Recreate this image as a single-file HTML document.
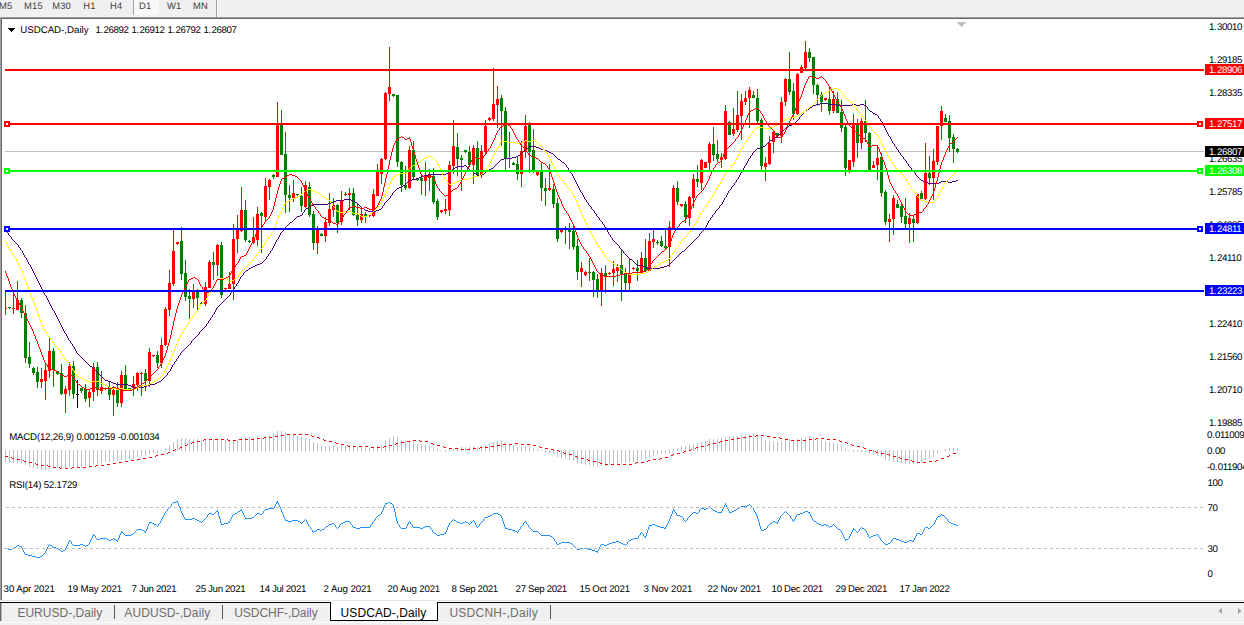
<!DOCTYPE html>
<html><head><meta charset="utf-8"><title>USDCAD-,Daily</title>
<style>
html,body{margin:0;padding:0;background:#fff;}
body{width:1244px;height:625px;position:relative;overflow:hidden;font-family:"Liberation Sans",sans-serif;}
.t{position:absolute;white-space:pre;line-height:1;color:#000;}
.p{font-size:9.7px;letter-spacing:-0.39px;text-rendering:geometricPrecision;}
.w{color:#fff;}
.p i{font-style:normal;letter-spacing:0.3px;}
.ttl{font-size:9.7px;letter-spacing:0px;text-rendering:geometricPrecision;}
.d{font-size:9.7px;text-rendering:geometricPrecision;}
.ind{letter-spacing:-0.2px;}
.tb{font-size:9.4px;color:#404040;letter-spacing:0.2px;text-rendering:geometricPrecision;}
.tab{font-size:12px;color:#6e6e6e;}
.act{color:#000;}
#top{position:absolute;left:0;top:0;width:1244px;height:17px;background:#f0f0f0;}
#bot{position:absolute;left:0;top:603px;width:1244px;height:22px;background:#f0f0f0;}
</style></head><body>
<div id="top"></div>
<div style="position:absolute;left:0;top:17px;width:1244px;height:1px;background:#a0a0a0"></div>
<div style="position:absolute;left:1px;top:18px;width:1243px;height:1px;background:#696969"></div>
<div style="position:absolute;left:0;top:17px;width:1px;height:585px;background:#a0a0a0"></div>
<div style="position:absolute;left:1px;top:18px;width:1px;height:584px;background:#696969"></div>
<div style="position:absolute;left:0;top:600px;width:1244px;height:1px;background:#e3e3e3"></div>
<div style="position:absolute;left:0;top:601px;width:1244px;height:1px;background:#fff"></div>
<div style="position:absolute;left:0;top:602px;width:1244px;height:1px;background:#000"></div>
<div id="bot"></div>
<div style="position:absolute;left:0;top:622px;width:1244px;height:1px;background:#fbfbfb"></div>
<!-- toolbar separators -->
<div style="position:absolute;left:133px;top:0;width:1px;height:15px;background:#a0a0a0"></div>
<div style="position:absolute;left:134px;top:0;width:25px;height:15px;background:#f8f8f8"></div>
<div style="position:absolute;left:216px;top:0;width:1px;height:17px;background:#a0a0a0"></div>
<div style="position:absolute;left:217px;top:0;width:1px;height:17px;background:#fafafa"></div>
<!-- tab bar pieces -->
<div style="position:absolute;left:0;top:603px;width:1px;height:18px;background:#696969"></div><div style="position:absolute;left:1px;top:603px;width:1px;height:18px;background:#b4b4b4"></div>
<div style="position:absolute;left:114px;top:605px;width:1px;height:14px;background:#555"></div>
<div style="position:absolute;left:222px;top:605px;width:1px;height:14px;background:#555"></div>
<div style="position:absolute;left:550px;top:605px;width:1px;height:14px;background:#555"></div>
<div style="position:absolute;left:330px;top:602px;width:106px;height:18px;background:#fff;border:1px solid #000;border-top:none;"></div>
<svg width="1244" height="625" shape-rendering="crispEdges" style="position:absolute;left:0;top:0"><rect x="5" y="450" width="1" height="12" fill="#c0c0c0"/><rect x="9" y="450" width="1" height="13" fill="#c0c0c0"/><rect x="13" y="450" width="1" height="13" fill="#c0c0c0"/><rect x="17" y="450" width="1" height="13" fill="#c0c0c0"/><rect x="21" y="450" width="1" height="13" fill="#c0c0c0"/><rect x="25" y="450" width="1" height="15" fill="#c0c0c0"/><rect x="29" y="450" width="1" height="17" fill="#c0c0c0"/><rect x="33" y="450" width="1" height="18" fill="#c0c0c0"/><rect x="37" y="450" width="1" height="19" fill="#c0c0c0"/><rect x="41" y="450" width="1" height="20" fill="#c0c0c0"/><rect x="45" y="450" width="1" height="20" fill="#c0c0c0"/><rect x="49" y="450" width="1" height="19" fill="#c0c0c0"/><rect x="53" y="450" width="1" height="18" fill="#c0c0c0"/><rect x="57" y="450" width="1" height="18" fill="#c0c0c0"/><rect x="61" y="450" width="1" height="19" fill="#c0c0c0"/><rect x="65" y="450" width="1" height="18" fill="#c0c0c0"/><rect x="69" y="450" width="1" height="17" fill="#c0c0c0"/><rect x="73" y="450" width="1" height="17" fill="#c0c0c0"/><rect x="77" y="450" width="1" height="17" fill="#c0c0c0"/><rect x="81" y="450" width="1" height="17" fill="#c0c0c0"/><rect x="85" y="450" width="1" height="16" fill="#c0c0c0"/><rect x="89" y="450" width="1" height="16" fill="#c0c0c0"/><rect x="93" y="450" width="1" height="14" fill="#c0c0c0"/><rect x="97" y="450" width="1" height="14" fill="#c0c0c0"/><rect x="101" y="450" width="1" height="13" fill="#c0c0c0"/><rect x="105" y="450" width="1" height="12" fill="#c0c0c0"/><rect x="109" y="450" width="1" height="12" fill="#c0c0c0"/><rect x="113" y="450" width="1" height="11" fill="#c0c0c0"/><rect x="117" y="450" width="1" height="11" fill="#c0c0c0"/><rect x="121" y="450" width="1" height="10" fill="#c0c0c0"/><rect x="125" y="450" width="1" height="10" fill="#c0c0c0"/><rect x="129" y="450" width="1" height="9" fill="#c0c0c0"/><rect x="133" y="450" width="1" height="8" fill="#c0c0c0"/><rect x="137" y="450" width="1" height="7" fill="#c0c0c0"/><rect x="141" y="450" width="1" height="6" fill="#c0c0c0"/><rect x="145" y="450" width="1" height="6" fill="#c0c0c0"/><rect x="149" y="450" width="1" height="4" fill="#c0c0c0"/><rect x="153" y="450" width="1" height="3" fill="#c0c0c0"/><rect x="157" y="450" width="1" height="3" fill="#c0c0c0"/><rect x="161" y="450" width="1" height="1" fill="#c0c0c0"/><rect x="165" y="448" width="1" height="3" fill="#c0c0c0"/><rect x="169" y="445" width="1" height="6" fill="#c0c0c0"/><rect x="173" y="442" width="1" height="9" fill="#c0c0c0"/><rect x="177" y="439" width="1" height="12" fill="#c0c0c0"/><rect x="181" y="438" width="1" height="13" fill="#c0c0c0"/><rect x="185" y="438" width="1" height="13" fill="#c0c0c0"/><rect x="189" y="439" width="1" height="12" fill="#c0c0c0"/><rect x="193" y="439" width="1" height="12" fill="#c0c0c0"/><rect x="197" y="439" width="1" height="12" fill="#c0c0c0"/><rect x="201" y="440" width="1" height="11" fill="#c0c0c0"/><rect x="205" y="440" width="1" height="11" fill="#c0c0c0"/><rect x="209" y="439" width="1" height="12" fill="#c0c0c0"/><rect x="213" y="439" width="1" height="12" fill="#c0c0c0"/><rect x="217" y="438" width="1" height="13" fill="#c0c0c0"/><rect x="221" y="439" width="1" height="12" fill="#c0c0c0"/><rect x="225" y="440" width="1" height="11" fill="#c0c0c0"/><rect x="229" y="441" width="1" height="10" fill="#c0c0c0"/><rect x="233" y="440" width="1" height="11" fill="#c0c0c0"/><rect x="237" y="439" width="1" height="12" fill="#c0c0c0"/><rect x="241" y="437" width="1" height="14" fill="#c0c0c0"/><rect x="245" y="437" width="1" height="14" fill="#c0c0c0"/><rect x="249" y="437" width="1" height="14" fill="#c0c0c0"/><rect x="253" y="438" width="1" height="13" fill="#c0c0c0"/><rect x="257" y="437" width="1" height="14" fill="#c0c0c0"/><rect x="261" y="437" width="1" height="14" fill="#c0c0c0"/><rect x="265" y="436" width="1" height="15" fill="#c0c0c0"/><rect x="269" y="435" width="1" height="16" fill="#c0c0c0"/><rect x="273" y="434" width="1" height="17" fill="#c0c0c0"/><rect x="277" y="431" width="1" height="20" fill="#c0c0c0"/><rect x="281" y="431" width="1" height="20" fill="#c0c0c0"/><rect x="285" y="432" width="1" height="19" fill="#c0c0c0"/><rect x="289" y="434" width="1" height="17" fill="#c0c0c0"/><rect x="293" y="435" width="1" height="16" fill="#c0c0c0"/><rect x="297" y="436" width="1" height="15" fill="#c0c0c0"/><rect x="301" y="437" width="1" height="14" fill="#c0c0c0"/><rect x="305" y="438" width="1" height="13" fill="#c0c0c0"/><rect x="309" y="439" width="1" height="12" fill="#c0c0c0"/><rect x="313" y="442" width="1" height="9" fill="#c0c0c0"/><rect x="317" y="443" width="1" height="8" fill="#c0c0c0"/><rect x="321" y="445" width="1" height="6" fill="#c0c0c0"/><rect x="325" y="446" width="1" height="5" fill="#c0c0c0"/><rect x="329" y="446" width="1" height="5" fill="#c0c0c0"/><rect x="333" y="446" width="1" height="5" fill="#c0c0c0"/><rect x="337" y="447" width="1" height="4" fill="#c0c0c0"/><rect x="341" y="446" width="1" height="5" fill="#c0c0c0"/><rect x="345" y="446" width="1" height="5" fill="#c0c0c0"/><rect x="349" y="445" width="1" height="6" fill="#c0c0c0"/><rect x="353" y="446" width="1" height="5" fill="#c0c0c0"/><rect x="357" y="447" width="1" height="4" fill="#c0c0c0"/><rect x="361" y="447" width="1" height="4" fill="#c0c0c0"/><rect x="365" y="448" width="1" height="3" fill="#c0c0c0"/><rect x="369" y="448" width="1" height="3" fill="#c0c0c0"/><rect x="373" y="447" width="1" height="4" fill="#c0c0c0"/><rect x="377" y="446" width="1" height="5" fill="#c0c0c0"/><rect x="381" y="445" width="1" height="6" fill="#c0c0c0"/><rect x="385" y="441" width="1" height="10" fill="#c0c0c0"/><rect x="389" y="438" width="1" height="13" fill="#c0c0c0"/><rect x="393" y="436" width="1" height="15" fill="#c0c0c0"/><rect x="397" y="437" width="1" height="14" fill="#c0c0c0"/><rect x="401" y="440" width="1" height="11" fill="#c0c0c0"/><rect x="405" y="441" width="1" height="10" fill="#c0c0c0"/><rect x="409" y="441" width="1" height="10" fill="#c0c0c0"/><rect x="413" y="443" width="1" height="8" fill="#c0c0c0"/><rect x="417" y="444" width="1" height="7" fill="#c0c0c0"/><rect x="421" y="445" width="1" height="6" fill="#c0c0c0"/><rect x="425" y="445" width="1" height="6" fill="#c0c0c0"/><rect x="429" y="446" width="1" height="5" fill="#c0c0c0"/><rect x="433" y="447" width="1" height="4" fill="#c0c0c0"/><rect x="437" y="449" width="1" height="2" fill="#c0c0c0"/><rect x="441" y="450" width="1" height="1" fill="#c0c0c0"/><rect x="445" y="450" width="1" height="2" fill="#c0c0c0"/><rect x="449" y="450" width="1" height="1" fill="#c0c0c0"/><rect x="453" y="449" width="1" height="2" fill="#c0c0c0"/><rect x="457" y="448" width="1" height="3" fill="#c0c0c0"/><rect x="461" y="447" width="1" height="4" fill="#c0c0c0"/><rect x="465" y="447" width="1" height="4" fill="#c0c0c0"/><rect x="469" y="447" width="1" height="4" fill="#c0c0c0"/><rect x="473" y="446" width="1" height="5" fill="#c0c0c0"/><rect x="477" y="447" width="1" height="4" fill="#c0c0c0"/><rect x="481" y="446" width="1" height="5" fill="#c0c0c0"/><rect x="485" y="445" width="1" height="6" fill="#c0c0c0"/><rect x="489" y="444" width="1" height="7" fill="#c0c0c0"/><rect x="493" y="442" width="1" height="9" fill="#c0c0c0"/><rect x="497" y="441" width="1" height="10" fill="#c0c0c0"/><rect x="501" y="441" width="1" height="10" fill="#c0c0c0"/><rect x="505" y="442" width="1" height="9" fill="#c0c0c0"/><rect x="509" y="444" width="1" height="7" fill="#c0c0c0"/><rect x="513" y="445" width="1" height="6" fill="#c0c0c0"/><rect x="517" y="447" width="1" height="4" fill="#c0c0c0"/><rect x="521" y="447" width="1" height="4" fill="#c0c0c0"/><rect x="525" y="446" width="1" height="5" fill="#c0c0c0"/><rect x="529" y="447" width="1" height="4" fill="#c0c0c0"/><rect x="533" y="448" width="1" height="3" fill="#c0c0c0"/><rect x="537" y="449" width="1" height="2" fill="#c0c0c0"/><rect x="541" y="450" width="1" height="1" fill="#c0c0c0"/><rect x="545" y="450" width="1" height="3" fill="#c0c0c0"/><rect x="549" y="450" width="1" height="3" fill="#c0c0c0"/><rect x="553" y="450" width="1" height="5" fill="#c0c0c0"/><rect x="557" y="450" width="1" height="7" fill="#c0c0c0"/><rect x="561" y="450" width="1" height="8" fill="#c0c0c0"/><rect x="565" y="450" width="1" height="9" fill="#c0c0c0"/><rect x="569" y="450" width="1" height="10" fill="#c0c0c0"/><rect x="573" y="450" width="1" height="11" fill="#c0c0c0"/><rect x="577" y="450" width="1" height="13" fill="#c0c0c0"/><rect x="581" y="450" width="1" height="14" fill="#c0c0c0"/><rect x="585" y="450" width="1" height="15" fill="#c0c0c0"/><rect x="589" y="450" width="1" height="15" fill="#c0c0c0"/><rect x="593" y="450" width="1" height="16" fill="#c0c0c0"/><rect x="597" y="450" width="1" height="17" fill="#c0c0c0"/><rect x="601" y="450" width="1" height="16" fill="#c0c0c0"/><rect x="605" y="450" width="1" height="16" fill="#c0c0c0"/><rect x="609" y="450" width="1" height="15" fill="#c0c0c0"/><rect x="613" y="450" width="1" height="15" fill="#c0c0c0"/><rect x="617" y="450" width="1" height="14" fill="#c0c0c0"/><rect x="621" y="450" width="1" height="13" fill="#c0c0c0"/><rect x="625" y="450" width="1" height="13" fill="#c0c0c0"/><rect x="629" y="450" width="1" height="12" fill="#c0c0c0"/><rect x="633" y="450" width="1" height="12" fill="#c0c0c0"/><rect x="637" y="450" width="1" height="11" fill="#c0c0c0"/><rect x="641" y="450" width="1" height="10" fill="#c0c0c0"/><rect x="645" y="450" width="1" height="9" fill="#c0c0c0"/><rect x="649" y="450" width="1" height="8" fill="#c0c0c0"/><rect x="653" y="450" width="1" height="6" fill="#c0c0c0"/><rect x="657" y="450" width="1" height="5" fill="#c0c0c0"/><rect x="661" y="450" width="1" height="4" fill="#c0c0c0"/><rect x="665" y="450" width="1" height="4" fill="#c0c0c0"/><rect x="669" y="450" width="1" height="3" fill="#c0c0c0"/><rect x="673" y="449" width="1" height="2" fill="#c0c0c0"/><rect x="677" y="448" width="1" height="3" fill="#c0c0c0"/><rect x="681" y="446" width="1" height="5" fill="#c0c0c0"/><rect x="685" y="446" width="1" height="5" fill="#c0c0c0"/><rect x="689" y="445" width="1" height="6" fill="#c0c0c0"/><rect x="693" y="444" width="1" height="7" fill="#c0c0c0"/><rect x="697" y="443" width="1" height="8" fill="#c0c0c0"/><rect x="701" y="442" width="1" height="9" fill="#c0c0c0"/><rect x="705" y="441" width="1" height="10" fill="#c0c0c0"/><rect x="709" y="439" width="1" height="12" fill="#c0c0c0"/><rect x="713" y="439" width="1" height="12" fill="#c0c0c0"/><rect x="717" y="439" width="1" height="12" fill="#c0c0c0"/><rect x="721" y="438" width="1" height="13" fill="#c0c0c0"/><rect x="725" y="437" width="1" height="14" fill="#c0c0c0"/><rect x="729" y="437" width="1" height="14" fill="#c0c0c0"/><rect x="733" y="436" width="1" height="15" fill="#c0c0c0"/><rect x="737" y="436" width="1" height="15" fill="#c0c0c0"/><rect x="741" y="435" width="1" height="16" fill="#c0c0c0"/><rect x="745" y="434" width="1" height="17" fill="#c0c0c0"/><rect x="749" y="434" width="1" height="17" fill="#c0c0c0"/><rect x="753" y="434" width="1" height="17" fill="#c0c0c0"/><rect x="757" y="435" width="1" height="16" fill="#c0c0c0"/><rect x="761" y="437" width="1" height="14" fill="#c0c0c0"/><rect x="765" y="440" width="1" height="11" fill="#c0c0c0"/><rect x="769" y="441" width="1" height="10" fill="#c0c0c0"/><rect x="773" y="441" width="1" height="10" fill="#c0c0c0"/><rect x="777" y="442" width="1" height="9" fill="#c0c0c0"/><rect x="781" y="441" width="1" height="10" fill="#c0c0c0"/><rect x="785" y="440" width="1" height="11" fill="#c0c0c0"/><rect x="789" y="439" width="1" height="12" fill="#c0c0c0"/><rect x="793" y="440" width="1" height="11" fill="#c0c0c0"/><rect x="797" y="439" width="1" height="12" fill="#c0c0c0"/><rect x="801" y="438" width="1" height="13" fill="#c0c0c0"/><rect x="805" y="437" width="1" height="14" fill="#c0c0c0"/><rect x="809" y="436" width="1" height="15" fill="#c0c0c0"/><rect x="813" y="437" width="1" height="14" fill="#c0c0c0"/><rect x="817" y="438" width="1" height="13" fill="#c0c0c0"/><rect x="821" y="440" width="1" height="11" fill="#c0c0c0"/><rect x="825" y="441" width="1" height="10" fill="#c0c0c0"/><rect x="829" y="442" width="1" height="9" fill="#c0c0c0"/><rect x="833" y="443" width="1" height="8" fill="#c0c0c0"/><rect x="837" y="444" width="1" height="7" fill="#c0c0c0"/><rect x="841" y="446" width="1" height="5" fill="#c0c0c0"/><rect x="845" y="449" width="1" height="2" fill="#c0c0c0"/><rect x="849" y="450" width="1" height="1" fill="#c0c0c0"/><rect x="853" y="450" width="1" height="2" fill="#c0c0c0"/><rect x="857" y="450" width="1" height="2" fill="#c0c0c0"/><rect x="861" y="450" width="1" height="2" fill="#c0c0c0"/><rect x="865" y="450" width="1" height="2" fill="#c0c0c0"/><rect x="869" y="450" width="1" height="4" fill="#c0c0c0"/><rect x="873" y="450" width="1" height="5" fill="#c0c0c0"/><rect x="877" y="450" width="1" height="6" fill="#c0c0c0"/><rect x="881" y="450" width="1" height="7" fill="#c0c0c0"/><rect x="885" y="450" width="1" height="10" fill="#c0c0c0"/><rect x="889" y="450" width="1" height="11" fill="#c0c0c0"/><rect x="893" y="450" width="1" height="12" fill="#c0c0c0"/><rect x="897" y="450" width="1" height="12" fill="#c0c0c0"/><rect x="901" y="450" width="1" height="13" fill="#c0c0c0"/><rect x="905" y="450" width="1" height="14" fill="#c0c0c0"/><rect x="909" y="450" width="1" height="14" fill="#c0c0c0"/><rect x="913" y="450" width="1" height="14" fill="#c0c0c0"/><rect x="917" y="450" width="1" height="13" fill="#c0c0c0"/><rect x="921" y="450" width="1" height="12" fill="#c0c0c0"/><rect x="925" y="450" width="1" height="10" fill="#c0c0c0"/><rect x="929" y="450" width="1" height="9" fill="#c0c0c0"/><rect x="933" y="450" width="1" height="7" fill="#c0c0c0"/><rect x="937" y="450" width="1" height="4" fill="#c0c0c0"/><rect x="941" y="450" width="1" height="1" fill="#c0c0c0"/><rect x="945" y="449" width="1" height="2" fill="#c0c0c0"/><rect x="949" y="448" width="1" height="3" fill="#c0c0c0"/><rect x="953" y="448" width="1" height="3" fill="#c0c0c0"/><rect x="957" y="448" width="1" height="3" fill="#c0c0c0"/><rect x="5" y="151" width="1199" height="1" fill="#c0c0c0"/><rect x="5" y="291" width="1" height="24" fill="#ff0000"/><rect x="5" y="308" width="2" height="1" fill="#ff0000"/><rect x="9" y="307" width="1" height="2" fill="#008000"/><rect x="8" y="307" width="3" height="1" fill="#008000"/><rect x="13" y="293" width="1" height="21" fill="#ff0000"/><rect x="12" y="308" width="3" height="1" fill="#ff0000"/><rect x="17" y="281" width="1" height="29" fill="#ff0000"/><rect x="16" y="300" width="3" height="10" fill="#ff0000"/><rect x="21" y="298" width="1" height="20" fill="#008000"/><rect x="20" y="300" width="3" height="13" fill="#008000"/><rect x="25" y="305" width="1" height="58" fill="#008000"/><rect x="24" y="313" width="3" height="45" fill="#008000"/><rect x="29" y="342" width="1" height="26" fill="#008000"/><rect x="28" y="357" width="3" height="7" fill="#008000"/><rect x="33" y="367" width="1" height="8" fill="#008000"/><rect x="32" y="368" width="3" height="5" fill="#008000"/><rect x="37" y="367" width="1" height="21" fill="#008000"/><rect x="36" y="372" width="3" height="10" fill="#008000"/><rect x="41" y="368" width="1" height="20" fill="#ff0000"/><rect x="40" y="379" width="3" height="3" fill="#ff0000"/><rect x="45" y="364" width="1" height="36" fill="#ff0000"/><rect x="44" y="370" width="3" height="11" fill="#ff0000"/><rect x="49" y="338" width="1" height="40" fill="#ff0000"/><rect x="48" y="351" width="3" height="20" fill="#ff0000"/><rect x="53" y="348" width="1" height="39" fill="#008000"/><rect x="52" y="351" width="3" height="19" fill="#008000"/><rect x="57" y="371" width="1" height="4" fill="#008000"/><rect x="56" y="371" width="3" height="3" fill="#008000"/><rect x="61" y="364" width="1" height="31" fill="#008000"/><rect x="60" y="373" width="3" height="21" fill="#008000"/><rect x="65" y="386" width="1" height="27" fill="#ff0000"/><rect x="64" y="389" width="3" height="5" fill="#ff0000"/><rect x="69" y="362" width="1" height="34" fill="#ff0000"/><rect x="68" y="366" width="3" height="24" fill="#ff0000"/><rect x="73" y="361" width="1" height="38" fill="#008000"/><rect x="72" y="366" width="3" height="28" fill="#008000"/><rect x="77" y="380" width="1" height="28" fill="#000000"/><rect x="76" y="394" width="3" height="1" fill="#000000"/><rect x="81" y="388" width="1" height="5" fill="#008000"/><rect x="80" y="388" width="3" height="3" fill="#008000"/><rect x="85" y="384" width="1" height="18" fill="#008000"/><rect x="84" y="389" width="3" height="10" fill="#008000"/><rect x="89" y="389" width="1" height="18" fill="#ff0000"/><rect x="88" y="392" width="3" height="6" fill="#ff0000"/><rect x="93" y="363" width="1" height="38" fill="#ff0000"/><rect x="92" y="367" width="3" height="25" fill="#ff0000"/><rect x="97" y="362" width="1" height="34" fill="#008000"/><rect x="96" y="367" width="3" height="23" fill="#008000"/><rect x="101" y="371" width="1" height="23" fill="#ff0000"/><rect x="100" y="387" width="3" height="4" fill="#ff0000"/><rect x="105" y="388" width="1" height="2" fill="#ff0000"/><rect x="104" y="388" width="3" height="1" fill="#ff0000"/><rect x="109" y="382" width="1" height="18" fill="#008000"/><rect x="108" y="387" width="3" height="8" fill="#008000"/><rect x="113" y="386" width="1" height="30" fill="#ff0000"/><rect x="112" y="390" width="3" height="5" fill="#ff0000"/><rect x="117" y="382" width="1" height="25" fill="#008000"/><rect x="116" y="389" width="3" height="14" fill="#008000"/><rect x="121" y="371" width="1" height="36" fill="#ff0000"/><rect x="120" y="375" width="3" height="28" fill="#ff0000"/><rect x="125" y="365" width="1" height="25" fill="#008000"/><rect x="124" y="375" width="3" height="15" fill="#008000"/><rect x="129" y="388" width="1" height="2" fill="#008000"/><rect x="128" y="388" width="3" height="1" fill="#008000"/><rect x="133" y="376" width="1" height="20" fill="#ff0000"/><rect x="132" y="384" width="3" height="4" fill="#ff0000"/><rect x="137" y="372" width="1" height="19" fill="#ff0000"/><rect x="136" y="373" width="3" height="12" fill="#ff0000"/><rect x="141" y="372" width="1" height="24" fill="#ff0000"/><rect x="140" y="373" width="3" height="1" fill="#ff0000"/><rect x="145" y="369" width="1" height="22" fill="#008000"/><rect x="144" y="373" width="3" height="8" fill="#008000"/><rect x="149" y="348" width="1" height="39" fill="#ff0000"/><rect x="148" y="352" width="3" height="29" fill="#ff0000"/><rect x="153" y="355" width="1" height="2" fill="#ff0000"/><rect x="152" y="355" width="3" height="1" fill="#ff0000"/><rect x="157" y="351" width="1" height="17" fill="#008000"/><rect x="156" y="355" width="3" height="8" fill="#008000"/><rect x="161" y="338" width="1" height="30" fill="#ff0000"/><rect x="160" y="345" width="3" height="18" fill="#ff0000"/><rect x="165" y="307" width="1" height="39" fill="#ff0000"/><rect x="164" y="309" width="3" height="36" fill="#ff0000"/><rect x="169" y="270" width="1" height="46" fill="#ff0000"/><rect x="168" y="283" width="3" height="27" fill="#ff0000"/><rect x="173" y="230" width="1" height="56" fill="#ff0000"/><rect x="172" y="251" width="3" height="33" fill="#ff0000"/><rect x="177" y="242" width="1" height="3" fill="#ff0000"/><rect x="176" y="242" width="3" height="2" fill="#ff0000"/><rect x="181" y="227" width="1" height="53" fill="#008000"/><rect x="180" y="241" width="3" height="33" fill="#008000"/><rect x="185" y="260" width="1" height="41" fill="#008000"/><rect x="184" y="273" width="3" height="24" fill="#008000"/><rect x="189" y="289" width="1" height="30" fill="#008000"/><rect x="188" y="296" width="3" height="3" fill="#008000"/><rect x="193" y="284" width="1" height="24" fill="#ff0000"/><rect x="192" y="292" width="3" height="7" fill="#ff0000"/><rect x="197" y="289" width="1" height="21" fill="#008000"/><rect x="196" y="292" width="3" height="6" fill="#008000"/><rect x="201" y="302" width="1" height="2" fill="#008000"/><rect x="200" y="303" width="3" height="1" fill="#008000"/><rect x="205" y="282" width="1" height="24" fill="#ff0000"/><rect x="204" y="287" width="3" height="17" fill="#ff0000"/><rect x="209" y="260" width="1" height="28" fill="#ff0000"/><rect x="208" y="262" width="3" height="26" fill="#ff0000"/><rect x="213" y="252" width="1" height="28" fill="#008000"/><rect x="212" y="262" width="3" height="3" fill="#008000"/><rect x="217" y="244" width="1" height="32" fill="#ff0000"/><rect x="216" y="245" width="3" height="20" fill="#ff0000"/><rect x="221" y="242" width="1" height="56" fill="#008000"/><rect x="220" y="245" width="3" height="50" fill="#008000"/><rect x="225" y="288" width="1" height="2" fill="#ff0000"/><rect x="224" y="288" width="3" height="1" fill="#ff0000"/><rect x="229" y="272" width="1" height="17" fill="#ff0000"/><rect x="228" y="284" width="3" height="5" fill="#ff0000"/><rect x="233" y="224" width="1" height="76" fill="#ff0000"/><rect x="232" y="239" width="3" height="45" fill="#ff0000"/><rect x="237" y="215" width="1" height="38" fill="#ff0000"/><rect x="236" y="229" width="3" height="10" fill="#ff0000"/><rect x="241" y="187" width="1" height="45" fill="#ff0000"/><rect x="240" y="210" width="3" height="21" fill="#ff0000"/><rect x="245" y="200" width="1" height="42" fill="#008000"/><rect x="244" y="210" width="3" height="30" fill="#008000"/><rect x="249" y="240" width="1" height="3" fill="#008000"/><rect x="248" y="241" width="3" height="1" fill="#008000"/><rect x="253" y="217" width="1" height="27" fill="#ff0000"/><rect x="252" y="237" width="3" height="6" fill="#ff0000"/><rect x="257" y="207" width="1" height="39" fill="#ff0000"/><rect x="256" y="214" width="3" height="26" fill="#ff0000"/><rect x="261" y="212" width="1" height="41" fill="#008000"/><rect x="260" y="213" width="3" height="3" fill="#008000"/><rect x="265" y="178" width="1" height="43" fill="#ff0000"/><rect x="264" y="186" width="3" height="31" fill="#ff0000"/><rect x="269" y="179" width="1" height="21" fill="#ff0000"/><rect x="268" y="180" width="3" height="7" fill="#ff0000"/><rect x="273" y="174" width="1" height="5" fill="#008000"/><rect x="272" y="175" width="3" height="2" fill="#008000"/><rect x="277" y="102" width="1" height="75" fill="#ff0000"/><rect x="276" y="124" width="3" height="53" fill="#ff0000"/><rect x="281" y="110" width="1" height="45" fill="#008000"/><rect x="280" y="125" width="3" height="30" fill="#008000"/><rect x="285" y="132" width="1" height="81" fill="#008000"/><rect x="284" y="154" width="3" height="41" fill="#008000"/><rect x="289" y="185" width="1" height="27" fill="#008000"/><rect x="288" y="195" width="3" height="3" fill="#008000"/><rect x="293" y="180" width="1" height="22" fill="#ff0000"/><rect x="292" y="193" width="3" height="5" fill="#ff0000"/><rect x="297" y="194" width="1" height="2" fill="#008000"/><rect x="296" y="194" width="3" height="1" fill="#008000"/><rect x="301" y="187" width="1" height="25" fill="#008000"/><rect x="300" y="196" width="3" height="10" fill="#008000"/><rect x="305" y="181" width="1" height="27" fill="#ff0000"/><rect x="304" y="185" width="3" height="22" fill="#ff0000"/><rect x="309" y="182" width="1" height="35" fill="#008000"/><rect x="308" y="187" width="3" height="28" fill="#008000"/><rect x="313" y="211" width="1" height="39" fill="#008000"/><rect x="312" y="214" width="3" height="29" fill="#008000"/><rect x="317" y="226" width="1" height="28" fill="#ff0000"/><rect x="316" y="229" width="3" height="14" fill="#ff0000"/><rect x="321" y="233" width="1" height="3" fill="#008000"/><rect x="320" y="234" width="3" height="2" fill="#008000"/><rect x="325" y="217" width="1" height="25" fill="#ff0000"/><rect x="324" y="222" width="3" height="14" fill="#ff0000"/><rect x="329" y="193" width="1" height="33" fill="#ff0000"/><rect x="328" y="209" width="3" height="14" fill="#ff0000"/><rect x="333" y="198" width="1" height="19" fill="#ff0000"/><rect x="332" y="205" width="3" height="5" fill="#ff0000"/><rect x="337" y="204" width="1" height="29" fill="#008000"/><rect x="336" y="205" width="3" height="18" fill="#008000"/><rect x="341" y="191" width="1" height="34" fill="#ff0000"/><rect x="340" y="200" width="3" height="22" fill="#ff0000"/><rect x="345" y="192" width="1" height="4" fill="#ff0000"/><rect x="344" y="194" width="3" height="1" fill="#ff0000"/><rect x="349" y="188" width="1" height="22" fill="#ff0000"/><rect x="348" y="193" width="3" height="2" fill="#ff0000"/><rect x="353" y="188" width="1" height="28" fill="#008000"/><rect x="352" y="193" width="3" height="22" fill="#008000"/><rect x="357" y="203" width="1" height="23" fill="#008000"/><rect x="356" y="215" width="3" height="5" fill="#008000"/><rect x="361" y="209" width="1" height="14" fill="#ff0000"/><rect x="360" y="214" width="3" height="6" fill="#ff0000"/><rect x="365" y="212" width="1" height="11" fill="#008000"/><rect x="364" y="214" width="3" height="2" fill="#008000"/><rect x="369" y="215" width="1" height="2" fill="#ff0000"/><rect x="368" y="215" width="3" height="1" fill="#ff0000"/><rect x="373" y="189" width="1" height="28" fill="#ff0000"/><rect x="372" y="194" width="3" height="22" fill="#ff0000"/><rect x="377" y="164" width="1" height="32" fill="#ff0000"/><rect x="376" y="172" width="3" height="24" fill="#ff0000"/><rect x="381" y="158" width="1" height="26" fill="#ff0000"/><rect x="380" y="159" width="3" height="15" fill="#ff0000"/><rect x="385" y="92" width="1" height="68" fill="#ff0000"/><rect x="384" y="93" width="3" height="66" fill="#ff0000"/><rect x="389" y="47" width="1" height="54" fill="#ff0000"/><rect x="388" y="87" width="3" height="7" fill="#ff0000"/><rect x="393" y="94" width="1" height="3" fill="#008000"/><rect x="392" y="94" width="3" height="2" fill="#008000"/><rect x="397" y="95" width="1" height="72" fill="#008000"/><rect x="396" y="95" width="3" height="67" fill="#008000"/><rect x="401" y="161" width="1" height="31" fill="#008000"/><rect x="400" y="162" width="3" height="23" fill="#008000"/><rect x="405" y="166" width="1" height="24" fill="#008000"/><rect x="404" y="185" width="3" height="3" fill="#008000"/><rect x="409" y="146" width="1" height="43" fill="#ff0000"/><rect x="408" y="150" width="3" height="38" fill="#ff0000"/><rect x="413" y="141" width="1" height="39" fill="#008000"/><rect x="412" y="150" width="3" height="27" fill="#008000"/><rect x="417" y="178" width="1" height="3" fill="#008000"/><rect x="416" y="178" width="3" height="2" fill="#008000"/><rect x="421" y="174" width="1" height="21" fill="#008000"/><rect x="420" y="178" width="3" height="3" fill="#008000"/><rect x="425" y="162" width="1" height="34" fill="#ff0000"/><rect x="424" y="176" width="3" height="5" fill="#ff0000"/><rect x="429" y="169" width="1" height="22" fill="#ff0000"/><rect x="428" y="175" width="3" height="3" fill="#ff0000"/><rect x="433" y="168" width="1" height="36" fill="#008000"/><rect x="432" y="176" width="3" height="26" fill="#008000"/><rect x="437" y="199" width="1" height="21" fill="#008000"/><rect x="436" y="201" width="3" height="16" fill="#008000"/><rect x="441" y="210" width="1" height="3" fill="#ff0000"/><rect x="440" y="210" width="3" height="2" fill="#ff0000"/><rect x="445" y="199" width="1" height="15" fill="#ff0000"/><rect x="444" y="209" width="3" height="2" fill="#ff0000"/><rect x="449" y="161" width="1" height="55" fill="#ff0000"/><rect x="448" y="165" width="3" height="45" fill="#ff0000"/><rect x="453" y="120" width="1" height="54" fill="#ff0000"/><rect x="452" y="146" width="3" height="20" fill="#ff0000"/><rect x="457" y="133" width="1" height="43" fill="#008000"/><rect x="456" y="147" width="3" height="12" fill="#008000"/><rect x="461" y="155" width="1" height="36" fill="#008000"/><rect x="460" y="158" width="3" height="2" fill="#008000"/><rect x="465" y="150" width="1" height="3" fill="#008000"/><rect x="464" y="150" width="3" height="2" fill="#008000"/><rect x="469" y="146" width="1" height="21" fill="#008000"/><rect x="468" y="152" width="3" height="13" fill="#008000"/><rect x="473" y="145" width="1" height="39" fill="#ff0000"/><rect x="472" y="148" width="3" height="17" fill="#ff0000"/><rect x="477" y="141" width="1" height="35" fill="#008000"/><rect x="476" y="148" width="3" height="27" fill="#008000"/><rect x="481" y="145" width="1" height="33" fill="#ff0000"/><rect x="480" y="151" width="3" height="24" fill="#ff0000"/><rect x="485" y="120" width="1" height="35" fill="#ff0000"/><rect x="484" y="126" width="3" height="26" fill="#ff0000"/><rect x="489" y="117" width="1" height="4" fill="#ff0000"/><rect x="488" y="118" width="3" height="2" fill="#ff0000"/><rect x="493" y="68" width="1" height="53" fill="#ff0000"/><rect x="492" y="104" width="3" height="15" fill="#ff0000"/><rect x="497" y="86" width="1" height="42" fill="#ff0000"/><rect x="496" y="99" width="3" height="6" fill="#ff0000"/><rect x="501" y="95" width="1" height="51" fill="#008000"/><rect x="500" y="98" width="3" height="13" fill="#008000"/><rect x="505" y="107" width="1" height="63" fill="#008000"/><rect x="504" y="111" width="3" height="47" fill="#008000"/><rect x="509" y="132" width="1" height="36" fill="#008000"/><rect x="513" y="162" width="1" height="3" fill="#008000"/><rect x="512" y="163" width="3" height="2" fill="#008000"/><rect x="517" y="157" width="1" height="23" fill="#008000"/><rect x="516" y="164" width="3" height="10" fill="#008000"/><rect x="521" y="141" width="1" height="46" fill="#ff0000"/><rect x="520" y="151" width="3" height="23" fill="#ff0000"/><rect x="525" y="115" width="1" height="43" fill="#ff0000"/><rect x="524" y="126" width="3" height="26" fill="#ff0000"/><rect x="529" y="122" width="1" height="51" fill="#008000"/><rect x="528" y="125" width="3" height="27" fill="#008000"/><rect x="533" y="129" width="1" height="44" fill="#008000"/><rect x="532" y="150" width="3" height="20" fill="#008000"/><rect x="537" y="172" width="1" height="4" fill="#ff0000"/><rect x="536" y="172" width="3" height="3" fill="#ff0000"/><rect x="541" y="163" width="1" height="38" fill="#008000"/><rect x="540" y="171" width="3" height="17" fill="#008000"/><rect x="545" y="178" width="1" height="28" fill="#008000"/><rect x="544" y="188" width="3" height="3" fill="#008000"/><rect x="549" y="164" width="1" height="27" fill="#ff0000"/><rect x="548" y="188" width="3" height="2" fill="#ff0000"/><rect x="553" y="184" width="1" height="24" fill="#008000"/><rect x="552" y="189" width="3" height="15" fill="#008000"/><rect x="557" y="198" width="1" height="44" fill="#008000"/><rect x="556" y="203" width="3" height="36" fill="#008000"/><rect x="561" y="230" width="1" height="3" fill="#ff0000"/><rect x="560" y="230" width="3" height="2" fill="#ff0000"/><rect x="565" y="226" width="1" height="18" fill="#008000"/><rect x="564" y="229" width="3" height="1" fill="#008000"/><rect x="569" y="223" width="1" height="26" fill="#008000"/><rect x="568" y="229" width="3" height="3" fill="#008000"/><rect x="573" y="226" width="1" height="24" fill="#008000"/><rect x="572" y="231" width="3" height="16" fill="#008000"/><rect x="577" y="239" width="1" height="41" fill="#008000"/><rect x="576" y="246" width="3" height="26" fill="#008000"/><rect x="581" y="262" width="1" height="25" fill="#ff0000"/><rect x="580" y="268" width="3" height="4" fill="#ff0000"/><rect x="585" y="271" width="1" height="5" fill="#ff0000"/><rect x="584" y="272" width="3" height="3" fill="#ff0000"/><rect x="589" y="258" width="1" height="23" fill="#008000"/><rect x="588" y="272" width="3" height="1" fill="#008000"/><rect x="593" y="271" width="1" height="26" fill="#008000"/><rect x="592" y="272" width="3" height="8" fill="#008000"/><rect x="597" y="274" width="1" height="24" fill="#008000"/><rect x="596" y="279" width="3" height="11" fill="#008000"/><rect x="601" y="268" width="1" height="38" fill="#ff0000"/><rect x="600" y="273" width="3" height="17" fill="#ff0000"/><rect x="605" y="265" width="1" height="28" fill="#008000"/><rect x="604" y="273" width="3" height="3" fill="#008000"/><rect x="609" y="272" width="1" height="3" fill="#ff0000"/><rect x="608" y="273" width="3" height="1" fill="#ff0000"/><rect x="613" y="261" width="1" height="25" fill="#ff0000"/><rect x="612" y="269" width="3" height="4" fill="#ff0000"/><rect x="617" y="264" width="1" height="18" fill="#ff0000"/><rect x="616" y="267" width="3" height="4" fill="#ff0000"/><rect x="621" y="250" width="1" height="51" fill="#008000"/><rect x="620" y="265" width="3" height="9" fill="#008000"/><rect x="625" y="268" width="1" height="22" fill="#008000"/><rect x="624" y="273" width="3" height="10" fill="#008000"/><rect x="629" y="258" width="1" height="32" fill="#ff0000"/><rect x="628" y="273" width="3" height="10" fill="#ff0000"/><rect x="633" y="267" width="1" height="3" fill="#ff0000"/><rect x="632" y="268" width="3" height="1" fill="#ff0000"/><rect x="637" y="260" width="1" height="21" fill="#008000"/><rect x="636" y="268" width="3" height="3" fill="#008000"/><rect x="641" y="252" width="1" height="22" fill="#ff0000"/><rect x="640" y="258" width="3" height="15" fill="#ff0000"/><rect x="645" y="239" width="1" height="32" fill="#008000"/><rect x="644" y="258" width="3" height="13" fill="#008000"/><rect x="649" y="233" width="1" height="38" fill="#ff0000"/><rect x="648" y="241" width="3" height="30" fill="#ff0000"/><rect x="653" y="229" width="1" height="19" fill="#ff0000"/><rect x="652" y="239" width="3" height="3" fill="#ff0000"/><rect x="657" y="240" width="1" height="5" fill="#008000"/><rect x="656" y="242" width="3" height="1" fill="#008000"/><rect x="661" y="236" width="1" height="11" fill="#008000"/><rect x="660" y="241" width="3" height="5" fill="#008000"/><rect x="665" y="230" width="1" height="20" fill="#008000"/><rect x="664" y="246" width="3" height="2" fill="#008000"/><rect x="669" y="221" width="1" height="46" fill="#ff0000"/><rect x="668" y="227" width="3" height="20" fill="#ff0000"/><rect x="673" y="185" width="1" height="45" fill="#ff0000"/><rect x="672" y="188" width="3" height="41" fill="#ff0000"/><rect x="677" y="181" width="1" height="24" fill="#008000"/><rect x="676" y="188" width="3" height="14" fill="#008000"/><rect x="681" y="204" width="1" height="3" fill="#ff0000"/><rect x="680" y="204" width="3" height="2" fill="#ff0000"/><rect x="685" y="201" width="1" height="22" fill="#008000"/><rect x="684" y="204" width="3" height="13" fill="#008000"/><rect x="689" y="196" width="1" height="30" fill="#ff0000"/><rect x="688" y="197" width="3" height="21" fill="#ff0000"/><rect x="693" y="174" width="1" height="34" fill="#ff0000"/><rect x="692" y="179" width="3" height="19" fill="#ff0000"/><rect x="697" y="165" width="1" height="22" fill="#008000"/><rect x="696" y="179" width="3" height="3" fill="#008000"/><rect x="701" y="159" width="1" height="31" fill="#ff0000"/><rect x="700" y="160" width="3" height="23" fill="#ff0000"/><rect x="705" y="162" width="1" height="6" fill="#ff0000"/><rect x="704" y="162" width="3" height="6" fill="#ff0000"/><rect x="709" y="142" width="1" height="28" fill="#ff0000"/><rect x="708" y="144" width="3" height="19" fill="#ff0000"/><rect x="713" y="127" width="1" height="34" fill="#008000"/><rect x="712" y="144" width="3" height="11" fill="#008000"/><rect x="717" y="140" width="1" height="22" fill="#008000"/><rect x="716" y="154" width="3" height="5" fill="#008000"/><rect x="721" y="153" width="1" height="15" fill="#ff0000"/><rect x="720" y="157" width="3" height="3" fill="#ff0000"/><rect x="725" y="105" width="1" height="55" fill="#ff0000"/><rect x="724" y="111" width="3" height="48" fill="#ff0000"/><rect x="729" y="121" width="1" height="14" fill="#008000"/><rect x="728" y="122" width="3" height="13" fill="#008000"/><rect x="733" y="108" width="1" height="28" fill="#ff0000"/><rect x="732" y="129" width="3" height="5" fill="#ff0000"/><rect x="737" y="91" width="1" height="41" fill="#ff0000"/><rect x="736" y="115" width="3" height="15" fill="#ff0000"/><rect x="741" y="94" width="1" height="46" fill="#ff0000"/><rect x="740" y="101" width="3" height="15" fill="#ff0000"/><rect x="745" y="91" width="1" height="14" fill="#ff0000"/><rect x="744" y="98" width="3" height="4" fill="#ff0000"/><rect x="749" y="87" width="1" height="41" fill="#ff0000"/><rect x="748" y="90" width="3" height="8" fill="#ff0000"/><rect x="753" y="91" width="1" height="7" fill="#008000"/><rect x="752" y="95" width="3" height="3" fill="#008000"/><rect x="757" y="89" width="1" height="34" fill="#008000"/><rect x="756" y="98" width="3" height="23" fill="#008000"/><rect x="761" y="118" width="1" height="52" fill="#008000"/><rect x="760" y="120" width="3" height="46" fill="#008000"/><rect x="765" y="157" width="1" height="24" fill="#ff0000"/><rect x="764" y="163" width="3" height="4" fill="#ff0000"/><rect x="769" y="136" width="1" height="29" fill="#ff0000"/><rect x="768" y="143" width="3" height="21" fill="#ff0000"/><rect x="773" y="130" width="1" height="23" fill="#ff0000"/><rect x="772" y="132" width="3" height="10" fill="#ff0000"/><rect x="777" y="133" width="1" height="3" fill="#008000"/><rect x="776" y="133" width="3" height="2" fill="#008000"/><rect x="781" y="97" width="1" height="46" fill="#ff0000"/><rect x="780" y="102" width="3" height="34" fill="#ff0000"/><rect x="785" y="78" width="1" height="28" fill="#ff0000"/><rect x="784" y="79" width="3" height="23" fill="#ff0000"/><rect x="789" y="52" width="1" height="43" fill="#008000"/><rect x="788" y="79" width="3" height="13" fill="#008000"/><rect x="793" y="83" width="1" height="37" fill="#008000"/><rect x="792" y="91" width="3" height="23" fill="#008000"/><rect x="797" y="73" width="1" height="42" fill="#ff0000"/><rect x="796" y="74" width="3" height="40" fill="#ff0000"/><rect x="801" y="65" width="1" height="8" fill="#ff0000"/><rect x="800" y="67" width="3" height="6" fill="#ff0000"/><rect x="805" y="41" width="1" height="30" fill="#ff0000"/><rect x="804" y="52" width="3" height="16" fill="#ff0000"/><rect x="809" y="48" width="1" height="14" fill="#008000"/><rect x="808" y="52" width="3" height="6" fill="#008000"/><rect x="813" y="57" width="1" height="37" fill="#008000"/><rect x="812" y="57" width="3" height="28" fill="#008000"/><rect x="817" y="84" width="1" height="22" fill="#008000"/><rect x="816" y="85" width="3" height="10" fill="#008000"/><rect x="821" y="92" width="1" height="20" fill="#008000"/><rect x="820" y="95" width="3" height="7" fill="#008000"/><rect x="825" y="98" width="1" height="3" fill="#ff0000"/><rect x="824" y="98" width="3" height="2" fill="#ff0000"/><rect x="829" y="86" width="1" height="29" fill="#008000"/><rect x="828" y="99" width="3" height="12" fill="#008000"/><rect x="833" y="91" width="1" height="22" fill="#ff0000"/><rect x="832" y="99" width="3" height="12" fill="#ff0000"/><rect x="837" y="92" width="1" height="21" fill="#008000"/><rect x="836" y="99" width="3" height="14" fill="#008000"/><rect x="841" y="100" width="1" height="32" fill="#008000"/><rect x="840" y="112" width="3" height="16" fill="#008000"/><rect x="845" y="125" width="1" height="51" fill="#008000"/><rect x="844" y="127" width="3" height="41" fill="#008000"/><rect x="849" y="160" width="1" height="13" fill="#ff0000"/><rect x="848" y="160" width="3" height="10" fill="#ff0000"/><rect x="853" y="114" width="1" height="53" fill="#ff0000"/><rect x="852" y="124" width="3" height="38" fill="#ff0000"/><rect x="857" y="119" width="1" height="39" fill="#008000"/><rect x="856" y="124" width="3" height="19" fill="#008000"/><rect x="861" y="118" width="1" height="31" fill="#ff0000"/><rect x="860" y="121" width="3" height="22" fill="#ff0000"/><rect x="865" y="100" width="1" height="42" fill="#008000"/><rect x="864" y="121" width="3" height="12" fill="#008000"/><rect x="869" y="132" width="1" height="39" fill="#008000"/><rect x="868" y="133" width="3" height="37" fill="#008000"/><rect x="873" y="161" width="1" height="7" fill="#ff0000"/><rect x="872" y="165" width="3" height="3" fill="#ff0000"/><rect x="877" y="147" width="1" height="33" fill="#ff0000"/><rect x="876" y="158" width="3" height="7" fill="#ff0000"/><rect x="881" y="153" width="1" height="44" fill="#008000"/><rect x="880" y="157" width="3" height="36" fill="#008000"/><rect x="885" y="190" width="1" height="35" fill="#008000"/><rect x="884" y="192" width="3" height="30" fill="#008000"/><rect x="889" y="214" width="1" height="28" fill="#ff0000"/><rect x="888" y="219" width="3" height="3" fill="#ff0000"/><rect x="893" y="195" width="1" height="40" fill="#ff0000"/><rect x="892" y="198" width="3" height="21" fill="#ff0000"/><rect x="897" y="200" width="1" height="8" fill="#008000"/><rect x="896" y="204" width="3" height="4" fill="#008000"/><rect x="901" y="204" width="1" height="19" fill="#008000"/><rect x="900" y="206" width="3" height="11" fill="#008000"/><rect x="905" y="198" width="1" height="30" fill="#008000"/><rect x="904" y="216" width="3" height="8" fill="#008000"/><rect x="909" y="213" width="1" height="30" fill="#ff0000"/><rect x="908" y="218" width="3" height="6" fill="#ff0000"/><rect x="913" y="216" width="1" height="26" fill="#008000"/><rect x="912" y="219" width="3" height="4" fill="#008000"/><rect x="917" y="194" width="1" height="30" fill="#ff0000"/><rect x="916" y="194" width="3" height="29" fill="#ff0000"/><rect x="921" y="191" width="1" height="8" fill="#008000"/><rect x="920" y="193" width="3" height="6" fill="#008000"/><rect x="925" y="143" width="1" height="57" fill="#ff0000"/><rect x="924" y="173" width="3" height="26" fill="#ff0000"/><rect x="929" y="156" width="1" height="29" fill="#008000"/><rect x="928" y="173" width="3" height="5" fill="#008000"/><rect x="933" y="149" width="1" height="51" fill="#ff0000"/><rect x="932" y="161" width="3" height="17" fill="#ff0000"/><rect x="937" y="126" width="1" height="39" fill="#ff0000"/><rect x="936" y="126" width="3" height="36" fill="#ff0000"/><rect x="941" y="106" width="1" height="34" fill="#ff0000"/><rect x="940" y="111" width="3" height="15" fill="#ff0000"/><rect x="945" y="114" width="1" height="8" fill="#008000"/><rect x="944" y="118" width="3" height="4" fill="#008000"/><rect x="949" y="115" width="1" height="37" fill="#008000"/><rect x="948" y="121" width="3" height="17" fill="#008000"/><rect x="953" y="134" width="1" height="29" fill="#008000"/><rect x="952" y="137" width="3" height="12" fill="#008000"/><rect x="957" y="148" width="1" height="5" fill="#008000"/><rect x="956" y="149" width="3" height="3" fill="#008000"/><path d="M5 229h1v1h-1zM6 230h1v2h-1zM7 232h1v1h-1zM8 233h1v2h-1zM9 235h1v1h-1zM10 236h1v1h-1zM11 237h1v2h-1zM12 239h1v1h-1zM13 240h1v1h-1zM14 241h1v1h-1zM15 242h1v1h-1zM16 243h1v1h-1zM17 244h1v1h-1zM18 245h1v2h-1zM19 247h1v1h-1zM20 248h1v2h-1zM21 250h1v1h-1zM22 251h1v2h-1zM23 253h1v2h-1zM24 255h1v2h-1zM25 257h1v1h-1zM26 258h1v2h-1zM27 260h1v2h-1zM28 262h1v2h-1zM29 264h1v1h-1zM30 265h1v2h-1zM31 267h1v2h-1zM32 269h1v2h-1zM33 271h1v2h-1zM34 273h1v2h-1zM35 275h1v2h-1zM36 277h1v2h-1zM37 279h1v2h-1zM38 281h1v2h-1zM39 283h1v2h-1zM40 285h1v2h-1zM41 287h1v2h-1zM42 289h1v2h-1zM43 291h1v2h-1zM44 293h1v2h-1zM45 295h1v1h-1zM46 296h1v2h-1zM47 298h1v2h-1zM48 300h1v2h-1zM49 302h1v2h-1zM50 304h1v2h-1zM51 306h1v2h-1zM52 308h1v2h-1zM53 310h1v1h-1zM54 311h1v2h-1zM55 313h1v2h-1zM56 315h1v2h-1zM57 317h1v2h-1zM58 319h1v2h-1zM59 321h1v2h-1zM60 323h1v2h-1zM61 325h1v2h-1zM62 327h1v2h-1zM63 329h1v2h-1zM64 331h1v2h-1zM65 333h1v1h-1zM66 334h1v2h-1zM67 336h1v2h-1zM68 338h1v2h-1zM69 340h1v1h-1zM70 341h1v2h-1zM71 343h1v1h-1zM72 344h1v2h-1zM73 346h1v1h-1zM74 347h1v2h-1zM75 349h1v2h-1zM76 351h1v2h-1zM77 353h1v1h-1zM78 354h1v1h-1zM79 355h1v1h-1zM80 356h1v1h-1zM81 357h1v1h-1zM82 358h1v1h-1zM83 359h1v1h-1zM84 360h1v1h-1zM85 361h1v1h-1zM86 362h1v1h-1zM87 363h1v1h-1zM88 364h1v1h-1zM89 365h1v1h-1zM90 366h1v1h-1zM91 366h1v1h-1zM92 367h1v1h-1zM93 368h1v1h-1zM94 369h1v1h-1zM95 370h1v1h-1zM96 371h1v1h-1zM97 372h1v1h-1zM98 373h1v1h-1zM99 374h1v1h-1zM100 375h1v1h-1zM101 376h1v1h-1zM102 377h1v1h-1zM103 378h1v1h-1zM104 379h1v1h-1zM105 380h1v1h-1zM106 380h1v1h-1zM107 380h1v1h-1zM108 381h1v1h-1zM109 381h1v1h-1zM110 381h1v1h-1zM111 382h1v1h-1zM112 382h1v1h-1zM113 383h1v1h-1zM114 383h1v1h-1zM115 383h1v1h-1zM116 384h1v1h-1zM117 384h1v1h-1zM118 384h1v1h-1zM119 384h1v1h-1zM120 384h1v1h-1zM121 384h1v1h-1zM122 384h1v1h-1zM123 384h1v1h-1zM124 384h1v1h-1zM125 384h1v1h-1zM126 384h1v1h-1zM127 384h1v1h-1zM128 385h1v1h-1zM129 385h1v1h-1zM130 385h1v1h-1zM131 386h1v1h-1zM132 386h1v1h-1zM133 387h1v1h-1zM134 387h1v1h-1zM135 387h1v1h-1zM136 387h1v1h-1zM137 387h1v1h-1zM138 387h1v1h-1zM139 387h1v1h-1zM140 387h1v1h-1zM141 387h1v1h-1zM142 387h1v1h-1zM143 387h1v1h-1zM144 386h1v1h-1zM145 386h1v1h-1zM146 386h1v1h-1zM147 385h1v1h-1zM148 385h1v1h-1zM149 384h1v1h-1zM150 384h1v1h-1zM151 384h1v1h-1zM152 384h1v1h-1zM153 384h1v1h-1zM154 384h1v1h-1zM155 383h1v1h-1zM156 383h1v1h-1zM157 382h1v1h-1zM158 382h1v1h-1zM159 381h1v1h-1zM160 381h1v1h-1zM161 380h1v1h-1zM162 379h1v1h-1zM163 378h1v1h-1zM164 377h1v1h-1zM165 376h1v1h-1zM166 375h1v1h-1zM167 373h1v2h-1zM168 372h1v1h-1zM169 371h1v1h-1zM170 369h1v2h-1zM171 367h1v2h-1zM172 365h1v2h-1zM173 364h1v1h-1zM174 362h1v2h-1zM175 361h1v1h-1zM176 359h1v2h-1zM177 358h1v1h-1zM178 356h1v2h-1zM179 355h1v1h-1zM180 353h1v2h-1zM181 352h1v1h-1zM182 351h1v1h-1zM183 350h1v1h-1zM184 349h1v1h-1zM185 348h1v1h-1zM186 347h1v1h-1zM187 346h1v1h-1zM188 345h1v1h-1zM189 344h1v1h-1zM190 343h1v1h-1zM191 341h1v2h-1zM192 340h1v1h-1zM193 339h1v1h-1zM194 338h1v1h-1zM195 337h1v1h-1zM196 336h1v1h-1zM197 335h1v1h-1zM198 334h1v1h-1zM199 332h1v2h-1zM200 331h1v1h-1zM201 330h1v1h-1zM202 329h1v1h-1zM203 328h1v1h-1zM204 327h1v1h-1zM205 326h1v1h-1zM206 324h1v2h-1zM207 323h1v1h-1zM208 321h1v2h-1zM209 320h1v1h-1zM210 318h1v2h-1zM211 317h1v1h-1zM212 315h1v2h-1zM213 314h1v1h-1zM214 312h1v2h-1zM215 310h1v2h-1zM216 308h1v2h-1zM217 307h1v1h-1zM218 306h1v1h-1zM219 305h1v1h-1zM220 304h1v1h-1zM221 303h1v1h-1zM222 302h1v1h-1zM223 301h1v1h-1zM224 300h1v1h-1zM225 299h1v1h-1zM226 298h1v1h-1zM227 297h1v1h-1zM228 296h1v1h-1zM229 295h1v1h-1zM230 293h1v2h-1zM231 292h1v1h-1zM232 290h1v2h-1zM233 289h1v1h-1zM234 287h1v2h-1zM235 286h1v1h-1zM236 284h1v2h-1zM237 283h1v1h-1zM238 281h1v2h-1zM239 279h1v2h-1zM240 277h1v2h-1zM241 276h1v1h-1zM242 275h1v1h-1zM243 273h1v2h-1zM244 272h1v1h-1zM245 271h1v1h-1zM246 270h1v1h-1zM247 270h1v1h-1zM248 269h1v1h-1zM249 268h1v1h-1zM250 268h1v1h-1zM251 267h1v1h-1zM252 267h1v1h-1zM253 266h1v1h-1zM254 266h1v1h-1zM255 265h1v1h-1zM256 265h1v1h-1zM257 264h1v1h-1zM258 264h1v1h-1zM259 264h1v1h-1zM260 263h1v1h-1zM261 263h1v1h-1zM262 262h1v1h-1zM263 261h1v1h-1zM264 260h1v1h-1zM265 259h1v1h-1zM266 257h1v2h-1zM267 256h1v1h-1zM268 254h1v2h-1zM269 253h1v1h-1zM270 251h1v2h-1zM271 250h1v1h-1zM272 248h1v2h-1zM273 246h1v2h-1zM274 244h1v2h-1zM275 242h1v2h-1zM276 240h1v2h-1zM277 239h1v1h-1zM278 237h1v2h-1zM279 235h1v2h-1zM280 233h1v2h-1zM281 232h1v1h-1zM282 231h1v1h-1zM283 229h1v2h-1zM284 228h1v1h-1zM285 227h1v1h-1zM286 226h1v1h-1zM287 225h1v1h-1zM288 224h1v1h-1zM289 223h1v1h-1zM290 222h1v1h-1zM291 222h1v1h-1zM292 221h1v1h-1zM293 220h1v1h-1zM294 219h1v1h-1zM295 218h1v1h-1zM296 217h1v1h-1zM297 216h1v1h-1zM298 216h1v1h-1zM299 216h1v1h-1zM300 215h1v1h-1zM301 215h1v1h-1zM302 213h1v2h-1zM303 212h1v1h-1zM304 210h1v2h-1zM305 209h1v1h-1zM306 208h1v1h-1zM307 208h1v1h-1zM308 207h1v1h-1zM309 206h1v1h-1zM310 206h1v1h-1zM311 205h1v1h-1zM312 205h1v1h-1zM313 204h1v1h-1zM314 204h1v1h-1zM315 204h1v1h-1zM316 204h1v1h-1zM317 204h1v1h-1zM318 204h1v1h-1zM319 204h1v1h-1zM320 204h1v1h-1zM321 204h1v1h-1zM322 204h1v1h-1zM323 204h1v1h-1zM324 204h1v1h-1zM325 204h1v1h-1zM326 204h1v1h-1zM327 204h1v1h-1zM328 203h1v1h-1zM329 203h1v1h-1zM330 203h1v1h-1zM331 202h1v1h-1zM332 202h1v1h-1zM333 201h1v1h-1zM334 201h1v1h-1zM335 201h1v1h-1zM336 200h1v1h-1zM337 200h1v1h-1zM338 200h1v1h-1zM339 200h1v1h-1zM340 200h1v1h-1zM341 200h1v1h-1zM342 200h1v1h-1zM343 200h1v1h-1zM344 199h1v1h-1zM345 199h1v1h-1zM346 199h1v1h-1zM347 199h1v1h-1zM348 199h1v1h-1zM349 199h1v1h-1zM350 199h1v1h-1zM351 200h1v1h-1zM352 200h1v1h-1zM353 201h1v1h-1zM354 201h1v1h-1zM355 202h1v1h-1zM356 202h1v1h-1zM357 203h1v1h-1zM358 204h1v1h-1zM359 205h1v1h-1zM360 206h1v1h-1zM361 207h1v1h-1zM362 208h1v1h-1zM363 208h1v1h-1zM364 209h1v1h-1zM365 210h1v1h-1zM366 210h1v1h-1zM367 210h1v1h-1zM368 211h1v1h-1zM369 211h1v1h-1zM370 211h1v1h-1zM371 211h1v1h-1zM372 211h1v1h-1zM373 211h1v1h-1zM374 211h1v1h-1zM375 211h1v1h-1zM376 210h1v1h-1zM377 210h1v1h-1zM378 210h1v1h-1zM379 209h1v1h-1zM380 209h1v1h-1zM381 208h1v1h-1zM382 206h1v2h-1zM383 205h1v1h-1zM384 203h1v2h-1zM385 202h1v1h-1zM386 201h1v1h-1zM387 200h1v1h-1zM388 199h1v1h-1zM389 198h1v1h-1zM390 196h1v2h-1zM391 195h1v1h-1zM392 193h1v2h-1zM393 192h1v1h-1zM394 191h1v1h-1zM395 190h1v1h-1zM396 189h1v1h-1zM397 188h1v1h-1zM398 188h1v1h-1zM399 187h1v1h-1zM400 187h1v1h-1zM401 186h1v1h-1zM402 186h1v1h-1zM403 185h1v1h-1zM404 185h1v1h-1zM405 184h1v1h-1zM406 183h1v1h-1zM407 182h1v1h-1zM408 181h1v1h-1zM409 180h1v1h-1zM410 180h1v1h-1zM411 180h1v1h-1zM412 179h1v1h-1zM413 179h1v1h-1zM414 179h1v1h-1zM415 179h1v1h-1zM416 178h1v1h-1zM417 178h1v1h-1zM418 178h1v1h-1zM419 177h1v1h-1zM420 177h1v1h-1zM421 176h1v1h-1zM422 176h1v1h-1zM423 176h1v1h-1zM424 175h1v1h-1zM425 175h1v1h-1zM426 175h1v1h-1zM427 175h1v1h-1zM428 174h1v1h-1zM429 174h1v1h-1zM430 174h1v1h-1zM431 174h1v1h-1zM432 174h1v1h-1zM433 174h1v1h-1zM434 174h1v1h-1zM435 174h1v1h-1zM436 174h1v1h-1zM437 174h1v1h-1zM438 174h1v1h-1zM439 174h1v1h-1zM440 174h1v1h-1zM441 174h1v1h-1zM442 174h1v1h-1zM443 174h1v1h-1zM444 174h1v1h-1zM445 174h1v1h-1zM446 173h1v1h-1zM447 173h1v1h-1zM448 172h1v1h-1zM449 171h1v1h-1zM450 170h1v1h-1zM451 170h1v1h-1zM452 169h1v1h-1zM453 168h1v1h-1zM454 168h1v1h-1zM455 167h1v1h-1zM456 167h1v1h-1zM457 166h1v1h-1zM458 166h1v1h-1zM459 166h1v1h-1zM460 166h1v1h-1zM461 166h1v1h-1zM462 166h1v1h-1zM463 166h1v1h-1zM464 165h1v1h-1zM465 165h1v1h-1zM466 166h1v1h-1zM467 167h1v1h-1zM468 168h1v1h-1zM469 169h1v1h-1zM470 170h1v1h-1zM471 170h1v1h-1zM472 171h1v1h-1zM473 172h1v1h-1zM474 173h1v1h-1zM475 173h1v1h-1zM476 174h1v1h-1zM477 175h1v1h-1zM478 175h1v1h-1zM479 175h1v1h-1zM480 175h1v1h-1zM481 175h1v1h-1zM482 174h1v1h-1zM483 174h1v1h-1zM484 173h1v1h-1zM485 172h1v1h-1zM486 171h1v1h-1zM487 171h1v1h-1zM488 170h1v1h-1zM489 169h1v1h-1zM490 169h1v1h-1zM491 168h1v1h-1zM492 168h1v1h-1zM493 167h1v1h-1zM494 166h1v1h-1zM495 165h1v1h-1zM496 164h1v1h-1zM497 163h1v1h-1zM498 162h1v1h-1zM499 161h1v1h-1zM500 160h1v1h-1zM501 159h1v1h-1zM502 159h1v1h-1zM503 159h1v1h-1zM504 158h1v1h-1zM505 158h1v1h-1zM506 158h1v1h-1zM507 158h1v1h-1zM508 158h1v1h-1zM509 158h1v1h-1zM510 158h1v1h-1zM511 158h1v1h-1zM512 157h1v1h-1zM513 157h1v1h-1zM514 157h1v1h-1zM515 157h1v1h-1zM516 156h1v1h-1zM517 156h1v1h-1zM518 155h1v1h-1zM519 155h1v1h-1zM520 154h1v1h-1zM521 153h1v1h-1zM522 152h1v1h-1zM523 151h1v1h-1zM524 150h1v1h-1zM525 149h1v1h-1zM526 148h1v1h-1zM527 148h1v1h-1zM528 147h1v1h-1zM529 146h1v1h-1zM530 146h1v1h-1zM531 146h1v1h-1zM532 146h1v1h-1zM533 146h1v1h-1zM534 146h1v1h-1zM535 146h1v1h-1zM536 147h1v1h-1zM537 147h1v1h-1zM538 147h1v1h-1zM539 148h1v1h-1zM540 148h1v1h-1zM541 149h1v1h-1zM542 149h1v1h-1zM543 149h1v1h-1zM544 150h1v1h-1zM545 150h1v1h-1zM546 150h1v1h-1zM547 151h1v1h-1zM548 151h1v1h-1zM549 152h1v1h-1zM550 152h1v1h-1zM551 153h1v1h-1zM552 153h1v1h-1zM553 154h1v1h-1zM554 155h1v1h-1zM555 156h1v1h-1zM556 157h1v1h-1zM557 158h1v1h-1zM558 159h1v1h-1zM559 159h1v1h-1zM560 160h1v1h-1zM561 161h1v1h-1zM562 162h1v1h-1zM563 162h1v1h-1zM564 163h1v1h-1zM565 164h1v1h-1zM566 165h1v2h-1zM567 167h1v1h-1zM568 168h1v2h-1zM569 170h1v1h-1zM570 171h1v2h-1zM571 173h1v1h-1zM572 174h1v2h-1zM573 176h1v2h-1zM574 178h1v2h-1zM575 180h1v2h-1zM576 182h1v2h-1zM577 184h1v2h-1zM578 186h1v2h-1zM579 188h1v2h-1zM580 190h1v2h-1zM581 192h1v1h-1zM582 193h1v2h-1zM583 195h1v2h-1zM584 197h1v2h-1zM585 199h1v1h-1zM586 200h1v2h-1zM587 202h1v1h-1zM588 203h1v2h-1zM589 205h1v1h-1zM590 206h1v1h-1zM591 207h1v2h-1zM592 209h1v1h-1zM593 210h1v1h-1zM594 211h1v2h-1zM595 213h1v1h-1zM596 214h1v2h-1zM597 216h1v1h-1zM598 217h1v1h-1zM599 218h1v2h-1zM600 220h1v1h-1zM601 221h1v1h-1zM602 222h1v2h-1zM603 224h1v1h-1zM604 225h1v2h-1zM605 227h1v1h-1zM606 228h1v2h-1zM607 230h1v2h-1zM608 232h1v2h-1zM609 234h1v1h-1zM610 235h1v2h-1zM611 237h1v1h-1zM612 238h1v2h-1zM613 240h1v1h-1zM614 241h1v1h-1zM615 242h1v1h-1zM616 243h1v1h-1zM617 244h1v1h-1zM618 245h1v1h-1zM619 246h1v2h-1zM620 248h1v1h-1zM621 249h1v1h-1zM622 250h1v1h-1zM623 251h1v2h-1zM624 253h1v1h-1zM625 254h1v1h-1zM626 255h1v1h-1zM627 256h1v1h-1zM628 257h1v1h-1zM629 258h1v1h-1zM630 259h1v1h-1zM631 259h1v1h-1zM632 260h1v1h-1zM633 261h1v1h-1zM634 262h1v1h-1zM635 263h1v1h-1zM636 264h1v1h-1zM637 265h1v1h-1zM638 265h1v1h-1zM639 265h1v1h-1zM640 265h1v1h-1zM641 265h1v1h-1zM642 265h1v1h-1zM643 266h1v1h-1zM644 266h1v1h-1zM645 267h1v1h-1zM646 267h1v1h-1zM647 267h1v1h-1zM648 268h1v1h-1zM649 268h1v1h-1zM650 268h1v1h-1zM651 268h1v1h-1zM652 268h1v1h-1zM653 268h1v1h-1zM654 268h1v1h-1zM655 268h1v1h-1zM656 268h1v1h-1zM657 268h1v1h-1zM658 268h1v1h-1zM659 268h1v1h-1zM660 267h1v1h-1zM661 267h1v1h-1zM662 267h1v1h-1zM663 267h1v1h-1zM664 266h1v1h-1zM665 266h1v1h-1zM666 266h1v1h-1zM667 265h1v1h-1zM668 265h1v1h-1zM669 264h1v1h-1zM670 263h1v1h-1zM671 262h1v1h-1zM672 261h1v1h-1zM673 260h1v1h-1zM674 259h1v1h-1zM675 258h1v1h-1zM676 257h1v1h-1zM677 256h1v1h-1zM678 255h1v1h-1zM679 254h1v1h-1zM680 253h1v1h-1zM681 252h1v1h-1zM682 251h1v1h-1zM683 251h1v1h-1zM684 250h1v1h-1zM685 249h1v1h-1zM686 248h1v1h-1zM687 247h1v1h-1zM688 246h1v1h-1zM689 245h1v1h-1zM690 244h1v1h-1zM691 243h1v1h-1zM692 242h1v1h-1zM693 241h1v1h-1zM694 240h1v1h-1zM695 239h1v1h-1zM696 238h1v1h-1zM697 237h1v1h-1zM698 236h1v1h-1zM699 234h1v2h-1zM700 233h1v1h-1zM701 232h1v1h-1zM702 231h1v1h-1zM703 229h1v2h-1zM704 228h1v1h-1zM705 227h1v1h-1zM706 225h1v2h-1zM707 223h1v2h-1zM708 221h1v2h-1zM709 220h1v1h-1zM710 218h1v2h-1zM711 217h1v1h-1zM712 215h1v2h-1zM713 214h1v1h-1zM714 213h1v1h-1zM715 211h1v2h-1zM716 210h1v1h-1zM717 209h1v1h-1zM718 208h1v1h-1zM719 206h1v2h-1zM720 205h1v1h-1zM721 204h1v1h-1zM722 202h1v2h-1zM723 200h1v2h-1zM724 198h1v2h-1zM725 197h1v1h-1zM726 195h1v2h-1zM727 193h1v2h-1zM728 191h1v2h-1zM729 190h1v1h-1zM730 189h1v1h-1zM731 187h1v2h-1zM732 186h1v1h-1zM733 185h1v1h-1zM734 183h1v2h-1zM735 182h1v1h-1zM736 180h1v2h-1zM737 179h1v1h-1zM738 177h1v2h-1zM739 175h1v2h-1zM740 173h1v2h-1zM741 172h1v1h-1zM742 170h1v2h-1zM743 168h1v2h-1zM744 166h1v2h-1zM745 165h1v1h-1zM746 163h1v2h-1zM747 161h1v2h-1zM748 159h1v2h-1zM749 158h1v1h-1zM750 156h1v2h-1zM751 155h1v1h-1zM752 153h1v2h-1zM753 152h1v1h-1zM754 151h1v1h-1zM755 150h1v1h-1zM756 149h1v1h-1zM757 148h1v1h-1zM758 148h1v1h-1zM759 148h1v1h-1zM760 147h1v1h-1zM761 147h1v1h-1zM762 147h1v1h-1zM763 146h1v1h-1zM764 146h1v1h-1zM765 145h1v1h-1zM766 144h1v1h-1zM767 143h1v1h-1zM768 142h1v1h-1zM769 141h1v1h-1zM770 140h1v1h-1zM771 140h1v1h-1zM772 139h1v1h-1zM773 138h1v1h-1zM774 138h1v1h-1zM775 137h1v1h-1zM776 137h1v1h-1zM777 136h1v1h-1zM778 135h1v1h-1zM779 134h1v1h-1zM780 133h1v1h-1zM781 132h1v1h-1zM782 131h1v1h-1zM783 130h1v1h-1zM784 129h1v1h-1zM785 128h1v1h-1zM786 127h1v1h-1zM787 127h1v1h-1zM788 126h1v1h-1zM789 125h1v1h-1zM790 125h1v1h-1zM791 125h1v1h-1zM792 124h1v1h-1zM793 124h1v1h-1zM794 123h1v1h-1zM795 122h1v1h-1zM796 121h1v1h-1zM797 120h1v1h-1zM798 119h1v1h-1zM799 117h1v2h-1zM800 116h1v1h-1zM801 115h1v1h-1zM802 114h1v1h-1zM803 112h1v2h-1zM804 111h1v1h-1zM805 110h1v1h-1zM806 110h1v1h-1zM807 109h1v1h-1zM808 109h1v1h-1zM809 108h1v1h-1zM810 107h1v1h-1zM811 107h1v1h-1zM812 106h1v1h-1zM813 105h1v1h-1zM814 105h1v1h-1zM815 105h1v1h-1zM816 104h1v1h-1zM817 104h1v1h-1zM818 104h1v1h-1zM819 104h1v1h-1zM820 103h1v1h-1zM821 103h1v1h-1zM822 103h1v1h-1zM823 103h1v1h-1zM824 103h1v1h-1zM825 103h1v1h-1zM826 103h1v1h-1zM827 103h1v1h-1zM828 104h1v1h-1zM829 104h1v1h-1zM830 104h1v1h-1zM831 104h1v1h-1zM832 104h1v1h-1zM833 104h1v1h-1zM834 104h1v1h-1zM835 104h1v1h-1zM836 105h1v1h-1zM837 105h1v1h-1zM838 105h1v1h-1zM839 105h1v1h-1zM840 105h1v1h-1zM841 105h1v1h-1zM842 105h1v1h-1zM843 105h1v1h-1zM844 105h1v1h-1zM845 105h1v1h-1zM846 105h1v1h-1zM847 105h1v1h-1zM848 105h1v1h-1zM849 105h1v1h-1zM850 105h1v1h-1zM851 105h1v1h-1zM852 104h1v1h-1zM853 104h1v1h-1zM854 104h1v1h-1zM855 104h1v1h-1zM856 105h1v1h-1zM857 105h1v1h-1zM858 105h1v1h-1zM859 105h1v1h-1zM860 104h1v1h-1zM861 104h1v1h-1zM862 104h1v1h-1zM863 104h1v1h-1zM864 105h1v1h-1zM865 105h1v1h-1zM866 106h1v1h-1zM867 107h1v2h-1zM868 109h1v1h-1zM869 110h1v1h-1zM870 111h1v1h-1zM871 111h1v1h-1zM872 112h1v1h-1zM873 113h1v1h-1zM874 113h1v1h-1zM875 114h1v1h-1zM876 114h1v1h-1zM877 115h1v1h-1zM878 116h1v2h-1zM879 118h1v1h-1zM880 119h1v2h-1zM881 121h1v1h-1zM882 122h1v2h-1zM883 124h1v2h-1zM884 126h1v2h-1zM885 128h1v2h-1zM886 130h1v2h-1zM887 132h1v2h-1zM888 134h1v2h-1zM889 136h1v1h-1zM890 137h1v2h-1zM891 139h1v2h-1zM892 141h1v2h-1zM893 143h1v1h-1zM894 144h1v2h-1zM895 146h1v1h-1zM896 147h1v2h-1zM897 149h1v1h-1zM898 150h1v2h-1zM899 152h1v1h-1zM900 153h1v2h-1zM901 155h1v1h-1zM902 156h1v1h-1zM903 157h1v2h-1zM904 159h1v1h-1zM905 160h1v1h-1zM906 161h1v2h-1zM907 163h1v1h-1zM908 164h1v2h-1zM909 166h1v1h-1zM910 167h1v1h-1zM911 168h1v2h-1zM912 170h1v1h-1zM913 171h1v1h-1zM914 172h1v1h-1zM915 173h1v2h-1zM916 175h1v1h-1zM917 176h1v1h-1zM918 177h1v1h-1zM919 178h1v1h-1zM920 179h1v1h-1zM921 180h1v1h-1zM922 180h1v1h-1zM923 181h1v1h-1zM924 181h1v1h-1zM925 182h1v1h-1zM926 182h1v1h-1zM927 182h1v1h-1zM928 183h1v1h-1zM929 183h1v1h-1zM930 183h1v1h-1zM931 183h1v1h-1zM932 183h1v1h-1zM933 183h1v1h-1zM934 183h1v1h-1zM935 183h1v1h-1zM936 183h1v1h-1zM937 183h1v1h-1zM938 183h1v1h-1zM939 182h1v1h-1zM940 182h1v1h-1zM941 181h1v1h-1zM942 181h1v1h-1zM943 181h1v1h-1zM944 181h1v1h-1zM945 181h1v1h-1zM946 181h1v1h-1zM947 181h1v1h-1zM948 182h1v1h-1zM949 182h1v1h-1zM950 182h1v1h-1zM951 182h1v1h-1zM952 181h1v1h-1zM953 181h1v1h-1zM954 181h1v1h-1zM955 181h1v1h-1zM956 180h1v1h-1zM957 180h1v1h-1z" fill="#4b0082"/><path d="M5 241h1v1h-1zM6 242h1v2h-1zM7 244h1v2h-1zM8 246h1v2h-1zM9 248h1v1h-1zM10 249h1v2h-1zM11 251h1v2h-1zM12 253h1v2h-1zM13 255h1v1h-1zM14 256h1v2h-1zM15 258h1v1h-1zM16 259h1v2h-1zM17 261h1v2h-1zM18 263h1v2h-1zM19 265h1v2h-1zM20 267h1v2h-1zM21 269h1v2h-1zM22 271h1v3h-1zM23 274h1v2h-1zM24 276h1v3h-1zM25 279h1v3h-1zM26 282h1v3h-1zM27 285h1v2h-1zM28 287h1v3h-1zM29 290h1v3h-1zM30 293h1v2h-1zM31 295h1v3h-1zM32 298h1v2h-1zM33 300h1v3h-1zM34 303h1v3h-1zM35 306h1v2h-1zM36 308h1v3h-1zM37 311h1v3h-1zM38 314h1v3h-1zM39 317h1v2h-1zM40 319h1v3h-1zM41 322h1v3h-1zM42 325h1v2h-1zM43 327h1v2h-1zM44 329h1v2h-1zM45 331h1v1h-1zM46 332h1v2h-1zM47 334h1v1h-1zM48 335h1v2h-1zM49 337h1v1h-1zM50 338h1v2h-1zM51 340h1v1h-1zM52 341h1v2h-1zM53 343h1v1h-1zM54 344h1v1h-1zM55 345h1v1h-1zM56 346h1v1h-1zM57 347h1v1h-1zM58 348h1v2h-1zM59 350h1v1h-1zM60 351h1v2h-1zM61 353h1v1h-1zM62 354h1v2h-1zM63 356h1v1h-1zM64 357h1v2h-1zM65 359h1v1h-1zM66 360h1v1h-1zM67 361h1v1h-1zM68 362h1v1h-1zM69 363h1v1h-1zM70 364h1v2h-1zM71 366h1v2h-1zM72 368h1v2h-1zM73 370h1v1h-1zM74 371h1v2h-1zM75 373h1v1h-1zM76 374h1v2h-1zM77 376h1v1h-1zM78 376h1v1h-1zM79 377h1v1h-1zM80 377h1v1h-1zM81 378h1v1h-1zM82 378h1v1h-1zM83 379h1v1h-1zM84 379h1v1h-1zM85 380h1v1h-1zM86 380h1v1h-1zM87 381h1v1h-1zM88 381h1v1h-1zM89 382h1v1h-1zM90 382h1v1h-1zM91 382h1v1h-1zM92 381h1v1h-1zM93 381h1v1h-1zM94 381h1v1h-1zM95 381h1v1h-1zM96 381h1v1h-1zM97 381h1v1h-1zM98 381h1v1h-1zM99 382h1v1h-1zM100 382h1v1h-1zM101 383h1v1h-1zM102 383h1v1h-1zM103 384h1v1h-1zM104 384h1v1h-1zM105 385h1v1h-1zM106 385h1v1h-1zM107 386h1v1h-1zM108 386h1v1h-1zM109 387h1v1h-1zM110 387h1v1h-1zM111 387h1v1h-1zM112 388h1v1h-1zM113 388h1v1h-1zM114 388h1v1h-1zM115 388h1v1h-1zM116 389h1v1h-1zM117 389h1v1h-1zM118 389h1v1h-1zM119 389h1v1h-1zM120 388h1v1h-1zM121 388h1v1h-1zM122 388h1v1h-1zM123 388h1v1h-1zM124 389h1v1h-1zM125 389h1v1h-1zM126 389h1v1h-1zM127 389h1v1h-1zM128 389h1v1h-1zM129 389h1v1h-1zM130 389h1v1h-1zM131 389h1v1h-1zM132 389h1v1h-1zM133 389h1v1h-1zM134 389h1v1h-1zM135 388h1v1h-1zM136 388h1v1h-1zM137 387h1v1h-1zM138 387h1v1h-1zM139 386h1v1h-1zM140 386h1v1h-1zM141 385h1v1h-1zM142 385h1v1h-1zM143 385h1v1h-1zM144 385h1v1h-1zM145 385h1v1h-1zM146 385h1v1h-1zM147 385h1v1h-1zM148 384h1v1h-1zM149 384h1v1h-1zM150 383h1v1h-1zM151 383h1v1h-1zM152 382h1v1h-1zM153 381h1v1h-1zM154 381h1v1h-1zM155 380h1v1h-1zM156 380h1v1h-1zM157 379h1v1h-1zM158 378h1v1h-1zM159 378h1v1h-1zM160 377h1v1h-1zM161 376h1v1h-1zM162 374h1v2h-1zM163 373h1v1h-1zM164 371h1v2h-1zM165 369h1v2h-1zM166 367h1v2h-1zM167 365h1v2h-1zM168 363h1v2h-1zM169 361h1v2h-1zM170 359h1v2h-1zM171 356h1v3h-1zM172 354h1v2h-1zM173 351h1v3h-1zM174 349h1v2h-1zM175 346h1v3h-1zM176 344h1v2h-1zM177 341h1v3h-1zM178 339h1v2h-1zM179 337h1v2h-1zM180 335h1v2h-1zM181 334h1v1h-1zM182 332h1v2h-1zM183 330h1v2h-1zM184 328h1v2h-1zM185 327h1v1h-1zM186 325h1v2h-1zM187 324h1v1h-1zM188 322h1v2h-1zM189 321h1v1h-1zM190 319h1v2h-1zM191 318h1v1h-1zM192 316h1v2h-1zM193 315h1v1h-1zM194 314h1v1h-1zM195 312h1v2h-1zM196 311h1v1h-1zM197 310h1v1h-1zM198 308h1v2h-1zM199 307h1v1h-1zM200 305h1v2h-1zM201 304h1v1h-1zM202 303h1v1h-1zM203 302h1v1h-1zM204 301h1v1h-1zM205 300h1v1h-1zM206 298h1v2h-1zM207 296h1v2h-1zM208 294h1v2h-1zM209 293h1v1h-1zM210 291h1v2h-1zM211 289h1v2h-1zM212 287h1v2h-1zM213 286h1v1h-1zM214 284h1v2h-1zM215 282h1v2h-1zM216 280h1v2h-1zM217 279h1v1h-1zM218 279h1v1h-1zM219 279h1v1h-1zM220 278h1v1h-1zM221 278h1v1h-1zM222 278h1v1h-1zM223 278h1v1h-1zM224 278h1v1h-1zM225 278h1v1h-1zM226 279h1v1h-1zM227 279h1v1h-1zM228 280h1v1h-1zM229 281h1v1h-1zM230 281h1v1h-1zM231 281h1v1h-1zM232 280h1v1h-1zM233 280h1v1h-1zM234 279h1v1h-1zM235 279h1v1h-1zM236 278h1v1h-1zM237 277h1v1h-1zM238 275h1v2h-1zM239 274h1v1h-1zM240 272h1v2h-1zM241 271h1v1h-1zM242 270h1v1h-1zM243 269h1v1h-1zM244 268h1v1h-1zM245 267h1v1h-1zM246 266h1v1h-1zM247 265h1v1h-1zM248 264h1v1h-1zM249 263h1v1h-1zM250 262h1v1h-1zM251 261h1v1h-1zM252 260h1v1h-1zM253 259h1v1h-1zM254 257h1v2h-1zM255 256h1v1h-1zM256 254h1v2h-1zM257 253h1v1h-1zM258 252h1v1h-1zM259 250h1v2h-1zM260 249h1v1h-1zM261 248h1v1h-1zM262 246h1v2h-1zM263 245h1v1h-1zM264 243h1v2h-1zM265 242h1v1h-1zM266 240h1v2h-1zM267 239h1v1h-1zM268 237h1v2h-1zM269 236h1v1h-1zM270 235h1v1h-1zM271 233h1v2h-1zM272 232h1v1h-1zM273 230h1v2h-1zM274 227h1v3h-1zM275 224h1v3h-1zM276 221h1v3h-1zM277 218h1v3h-1zM278 216h1v2h-1zM279 214h1v2h-1zM280 212h1v2h-1zM281 210h1v2h-1zM282 208h1v2h-1zM283 206h1v2h-1zM284 204h1v2h-1zM285 203h1v1h-1zM286 202h1v1h-1zM287 202h1v1h-1zM288 201h1v1h-1zM289 200h1v1h-1zM290 200h1v1h-1zM291 199h1v1h-1zM292 199h1v1h-1zM293 198h1v1h-1zM294 198h1v1h-1zM295 198h1v1h-1zM296 197h1v1h-1zM297 197h1v1h-1zM298 196h1v1h-1zM299 196h1v1h-1zM300 195h1v1h-1zM301 194h1v1h-1zM302 193h1v1h-1zM303 192h1v1h-1zM304 191h1v1h-1zM305 190h1v1h-1zM306 190h1v1h-1zM307 190h1v1h-1zM308 189h1v1h-1zM309 189h1v1h-1zM310 189h1v1h-1zM311 190h1v1h-1zM312 190h1v1h-1zM313 191h1v1h-1zM314 191h1v1h-1zM315 191h1v1h-1zM316 192h1v1h-1zM317 192h1v1h-1zM318 193h1v1h-1zM319 193h1v1h-1zM320 194h1v1h-1zM321 195h1v1h-1zM322 196h1v1h-1zM323 196h1v1h-1zM324 197h1v1h-1zM325 198h1v1h-1zM326 198h1v1h-1zM327 199h1v1h-1zM328 199h1v1h-1zM329 200h1v1h-1zM330 201h1v2h-1zM331 203h1v1h-1zM332 204h1v2h-1zM333 206h1v1h-1zM334 207h1v1h-1zM335 208h1v2h-1zM336 210h1v1h-1zM337 211h1v1h-1zM338 211h1v1h-1zM339 211h1v1h-1zM340 212h1v1h-1zM341 212h1v1h-1zM342 212h1v1h-1zM343 212h1v1h-1zM344 211h1v1h-1zM345 211h1v1h-1zM346 211h1v1h-1zM347 211h1v1h-1zM348 211h1v1h-1zM349 211h1v1h-1zM350 211h1v1h-1zM351 212h1v1h-1zM352 212h1v1h-1zM353 213h1v1h-1zM354 213h1v1h-1zM355 213h1v1h-1zM356 213h1v1h-1zM357 213h1v1h-1zM358 214h1v1h-1zM359 214h1v1h-1zM360 215h1v1h-1zM361 216h1v1h-1zM362 216h1v1h-1zM363 216h1v1h-1zM364 216h1v1h-1zM365 216h1v1h-1zM366 216h1v1h-1zM367 215h1v1h-1zM368 215h1v1h-1zM369 214h1v1h-1zM370 213h1v1h-1zM371 213h1v1h-1zM372 212h1v1h-1zM373 211h1v1h-1zM374 210h1v1h-1zM375 209h1v1h-1zM376 208h1v1h-1zM377 207h1v1h-1zM378 206h1v1h-1zM379 204h1v2h-1zM380 203h1v1h-1zM381 201h1v2h-1zM382 199h1v2h-1zM383 197h1v2h-1zM384 195h1v2h-1zM385 193h1v2h-1zM386 191h1v2h-1zM387 189h1v2h-1zM388 187h1v2h-1zM389 184h1v3h-1zM390 182h1v2h-1zM391 180h1v2h-1zM392 178h1v2h-1zM393 176h1v2h-1zM394 176h1v1h-1zM395 175h1v1h-1zM396 175h1v1h-1zM397 174h1v1h-1zM398 174h1v1h-1zM399 174h1v1h-1zM400 173h1v1h-1zM401 173h1v1h-1zM402 173h1v1h-1zM403 173h1v1h-1zM404 173h1v1h-1zM405 173h1v1h-1zM406 172h1v1h-1zM407 170h1v2h-1zM408 169h1v1h-1zM409 168h1v1h-1zM410 167h1v1h-1zM411 167h1v1h-1zM412 166h1v1h-1zM413 165h1v1h-1zM414 165h1v1h-1zM415 164h1v1h-1zM416 164h1v1h-1zM417 163h1v1h-1zM418 162h1v1h-1zM419 162h1v1h-1zM420 161h1v1h-1zM421 160h1v1h-1zM422 159h1v1h-1zM423 159h1v1h-1zM424 158h1v1h-1zM425 157h1v1h-1zM426 157h1v1h-1zM427 157h1v1h-1zM428 156h1v1h-1zM429 156h1v1h-1zM430 156h1v1h-1zM431 157h1v1h-1zM432 157h1v1h-1zM433 158h1v1h-1zM434 159h1v1h-1zM435 160h1v1h-1zM436 161h1v1h-1zM437 162h1v2h-1zM438 164h1v2h-1zM439 166h1v2h-1zM440 168h1v2h-1zM441 170h1v3h-1zM442 173h1v2h-1zM443 175h1v2h-1zM444 177h1v2h-1zM445 179h1v1h-1zM446 180h1v1h-1zM447 181h1v2h-1zM448 183h1v1h-1zM449 184h1v1h-1zM450 184h1v1h-1zM451 184h1v1h-1zM452 183h1v1h-1zM453 183h1v1h-1zM454 183h1v1h-1zM455 182h1v1h-1zM456 182h1v1h-1zM457 181h1v1h-1zM458 181h1v1h-1zM459 180h1v1h-1zM460 180h1v1h-1zM461 179h1v1h-1zM462 179h1v1h-1zM463 179h1v1h-1zM464 179h1v1h-1zM465 179h1v1h-1zM466 179h1v1h-1zM467 179h1v1h-1zM468 178h1v1h-1zM469 178h1v1h-1zM470 178h1v1h-1zM471 177h1v1h-1zM472 177h1v1h-1zM473 176h1v1h-1zM474 176h1v1h-1zM475 176h1v1h-1zM476 176h1v1h-1zM477 176h1v1h-1zM478 176h1v1h-1zM479 175h1v1h-1zM480 175h1v1h-1zM481 174h1v1h-1zM482 173h1v1h-1zM483 172h1v1h-1zM484 171h1v1h-1zM485 170h1v1h-1zM486 168h1v2h-1zM487 167h1v1h-1zM488 165h1v2h-1zM489 163h1v2h-1zM490 161h1v2h-1zM491 159h1v2h-1zM492 157h1v2h-1zM493 155h1v2h-1zM494 153h1v2h-1zM495 151h1v2h-1zM496 149h1v2h-1zM497 148h1v1h-1zM498 146h1v2h-1zM499 144h1v2h-1zM500 142h1v2h-1zM501 141h1v1h-1zM502 141h1v1h-1zM503 141h1v1h-1zM504 141h1v1h-1zM505 141h1v1h-1zM506 141h1v1h-1zM507 141h1v1h-1zM508 142h1v1h-1zM509 142h1v1h-1zM510 142h1v1h-1zM511 142h1v1h-1zM512 142h1v1h-1zM513 142h1v1h-1zM514 142h1v1h-1zM515 142h1v1h-1zM516 143h1v1h-1zM517 143h1v1h-1zM518 143h1v1h-1zM519 143h1v1h-1zM520 143h1v1h-1zM521 143h1v1h-1zM522 142h1v1h-1zM523 142h1v1h-1zM524 141h1v1h-1zM525 140h1v1h-1zM526 140h1v1h-1zM527 140h1v1h-1zM528 141h1v1h-1zM529 141h1v1h-1zM530 141h1v1h-1zM531 141h1v1h-1zM532 140h1v1h-1zM533 140h1v1h-1zM534 140h1v1h-1zM535 141h1v1h-1zM536 141h1v1h-1zM537 142h1v1h-1zM538 143h1v1h-1zM539 144h1v1h-1zM540 145h1v1h-1zM541 146h1v1h-1zM542 147h1v1h-1zM543 148h1v2h-1zM544 150h1v1h-1zM545 151h1v1h-1zM546 152h1v2h-1zM547 154h1v1h-1zM548 155h1v2h-1zM549 157h1v2h-1zM550 159h1v2h-1zM551 161h1v2h-1zM552 163h1v2h-1zM553 165h1v2h-1zM554 167h1v2h-1zM555 169h1v2h-1zM556 171h1v2h-1zM557 173h1v2h-1zM558 175h1v1h-1zM559 176h1v2h-1zM560 178h1v1h-1zM561 179h1v1h-1zM562 180h1v1h-1zM563 181h1v2h-1zM564 183h1v1h-1zM565 184h1v1h-1zM566 185h1v1h-1zM567 186h1v2h-1zM568 188h1v1h-1zM569 189h1v1h-1zM570 190h1v1h-1zM571 191h1v2h-1zM572 193h1v1h-1zM573 194h1v2h-1zM574 196h1v2h-1zM575 198h1v2h-1zM576 200h1v2h-1zM577 202h1v3h-1zM578 205h1v2h-1zM579 207h1v3h-1zM580 210h1v2h-1zM581 212h1v3h-1zM582 215h1v2h-1zM583 217h1v2h-1zM584 219h1v2h-1zM585 221h1v2h-1zM586 223h1v2h-1zM587 225h1v2h-1zM588 227h1v2h-1zM589 229h1v2h-1zM590 231h1v2h-1zM591 233h1v2h-1zM592 235h1v2h-1zM593 237h1v1h-1zM594 238h1v2h-1zM595 240h1v2h-1zM596 242h1v2h-1zM597 244h1v1h-1zM598 245h1v2h-1zM599 247h1v1h-1zM600 248h1v2h-1zM601 250h1v1h-1zM602 251h1v2h-1zM603 253h1v1h-1zM604 254h1v2h-1zM605 256h1v1h-1zM606 257h1v1h-1zM607 258h1v2h-1zM608 260h1v1h-1zM609 261h1v1h-1zM610 261h1v1h-1zM611 262h1v1h-1zM612 262h1v1h-1zM613 263h1v1h-1zM614 264h1v1h-1zM615 264h1v1h-1zM616 265h1v1h-1zM617 266h1v1h-1zM618 267h1v1h-1zM619 267h1v1h-1zM620 268h1v1h-1zM621 269h1v1h-1zM622 270h1v1h-1zM623 270h1v1h-1zM624 271h1v1h-1zM625 272h1v1h-1zM626 272h1v1h-1zM627 273h1v1h-1zM628 273h1v1h-1zM629 274h1v1h-1zM630 274h1v1h-1zM631 274h1v1h-1zM632 274h1v1h-1zM633 274h1v1h-1zM634 274h1v1h-1zM635 274h1v1h-1zM636 274h1v1h-1zM637 274h1v1h-1zM638 274h1v1h-1zM639 274h1v1h-1zM640 273h1v1h-1zM641 273h1v1h-1zM642 273h1v1h-1zM643 273h1v1h-1zM644 273h1v1h-1zM645 273h1v1h-1zM646 272h1v1h-1zM647 272h1v1h-1zM648 271h1v1h-1zM649 270h1v1h-1zM650 269h1v1h-1zM651 269h1v1h-1zM652 268h1v1h-1zM653 267h1v1h-1zM654 267h1v1h-1zM655 266h1v1h-1zM656 266h1v1h-1zM657 265h1v1h-1zM658 264h1v1h-1zM659 264h1v1h-1zM660 263h1v1h-1zM661 262h1v1h-1zM662 262h1v1h-1zM663 262h1v1h-1zM664 261h1v1h-1zM665 261h1v1h-1zM666 260h1v1h-1zM667 260h1v1h-1zM668 259h1v1h-1zM669 258h1v1h-1zM670 256h1v2h-1zM671 255h1v1h-1zM672 253h1v2h-1zM673 252h1v1h-1zM674 251h1v1h-1zM675 249h1v2h-1zM676 248h1v1h-1zM677 247h1v1h-1zM678 245h1v2h-1zM679 244h1v1h-1zM680 242h1v2h-1zM681 241h1v1h-1zM682 240h1v1h-1zM683 239h1v1h-1zM684 238h1v1h-1zM685 237h1v1h-1zM686 236h1v1h-1zM687 234h1v2h-1zM688 233h1v1h-1zM689 232h1v1h-1zM690 230h1v2h-1zM691 229h1v1h-1zM692 227h1v2h-1zM693 226h1v1h-1zM694 224h1v2h-1zM695 223h1v1h-1zM696 221h1v2h-1zM697 219h1v2h-1zM698 217h1v2h-1zM699 215h1v2h-1zM700 213h1v2h-1zM701 212h1v1h-1zM702 211h1v1h-1zM703 209h1v2h-1zM704 208h1v1h-1zM705 207h1v1h-1zM706 205h1v2h-1zM707 203h1v2h-1zM708 201h1v2h-1zM709 200h1v1h-1zM710 198h1v2h-1zM711 197h1v1h-1zM712 195h1v2h-1zM713 194h1v1h-1zM714 192h1v2h-1zM715 190h1v2h-1zM716 188h1v2h-1zM717 187h1v1h-1zM718 185h1v2h-1zM719 184h1v1h-1zM720 182h1v2h-1zM721 180h1v2h-1zM722 178h1v2h-1zM723 176h1v2h-1zM724 174h1v2h-1zM725 173h1v1h-1zM726 172h1v1h-1zM727 171h1v1h-1zM728 170h1v1h-1zM729 169h1v1h-1zM730 168h1v1h-1zM731 166h1v2h-1zM732 165h1v1h-1zM733 164h1v1h-1zM734 162h1v2h-1zM735 160h1v2h-1zM736 158h1v2h-1zM737 156h1v2h-1zM738 154h1v2h-1zM739 152h1v2h-1zM740 150h1v2h-1zM741 149h1v1h-1zM742 147h1v2h-1zM743 145h1v2h-1zM744 143h1v2h-1zM745 142h1v1h-1zM746 140h1v2h-1zM747 139h1v1h-1zM748 137h1v2h-1zM749 136h1v1h-1zM750 134h1v2h-1zM751 133h1v1h-1zM752 131h1v2h-1zM753 130h1v1h-1zM754 129h1v1h-1zM755 129h1v1h-1zM756 128h1v1h-1zM757 127h1v1h-1zM758 127h1v1h-1zM759 127h1v1h-1zM760 127h1v1h-1zM761 127h1v1h-1zM762 127h1v1h-1zM763 127h1v1h-1zM764 128h1v1h-1zM765 128h1v1h-1zM766 128h1v1h-1zM767 128h1v1h-1zM768 128h1v1h-1zM769 128h1v1h-1zM770 128h1v1h-1zM771 127h1v1h-1zM772 127h1v1h-1zM773 126h1v1h-1zM774 126h1v1h-1zM775 125h1v1h-1zM776 125h1v1h-1zM777 124h1v1h-1zM778 124h1v1h-1zM779 124h1v1h-1zM780 123h1v1h-1zM781 123h1v1h-1zM782 122h1v1h-1zM783 121h1v1h-1zM784 120h1v1h-1zM785 119h1v1h-1zM786 119h1v1h-1zM787 118h1v1h-1zM788 118h1v1h-1zM789 117h1v1h-1zM790 117h1v1h-1zM791 117h1v1h-1zM792 117h1v1h-1zM793 117h1v1h-1zM794 117h1v1h-1zM795 116h1v1h-1zM796 116h1v1h-1zM797 115h1v1h-1zM798 115h1v1h-1zM799 114h1v1h-1zM800 114h1v1h-1zM801 113h1v1h-1zM802 112h1v1h-1zM803 112h1v1h-1zM804 111h1v1h-1zM805 110h1v1h-1zM806 109h1v1h-1zM807 109h1v1h-1zM808 108h1v1h-1zM809 107h1v1h-1zM810 106h1v1h-1zM811 106h1v1h-1zM812 105h1v1h-1zM813 104h1v1h-1zM814 103h1v1h-1zM815 101h1v2h-1zM816 100h1v1h-1zM817 99h1v1h-1zM818 98h1v1h-1zM819 97h1v1h-1zM820 96h1v1h-1zM821 95h1v1h-1zM822 94h1v1h-1zM823 94h1v1h-1zM824 93h1v1h-1zM825 92h1v1h-1zM826 92h1v1h-1zM827 91h1v1h-1zM828 91h1v1h-1zM829 90h1v1h-1zM830 90h1v1h-1zM831 89h1v1h-1zM832 89h1v1h-1zM833 88h1v1h-1zM834 88h1v1h-1zM835 88h1v1h-1zM836 88h1v1h-1zM837 88h1v1h-1zM838 89h1v1h-1zM839 90h1v1h-1zM840 91h1v1h-1zM841 92h1v1h-1zM842 93h1v1h-1zM843 94h1v2h-1zM844 96h1v1h-1zM845 97h1v1h-1zM846 98h1v1h-1zM847 99h1v1h-1zM848 100h1v1h-1zM849 101h1v1h-1zM850 102h1v1h-1zM851 102h1v1h-1zM852 103h1v1h-1zM853 104h1v1h-1zM854 105h1v2h-1zM855 107h1v1h-1zM856 108h1v2h-1zM857 110h1v1h-1zM858 111h1v1h-1zM859 112h1v2h-1zM860 114h1v1h-1zM861 115h1v1h-1zM862 116h1v1h-1zM863 117h1v2h-1zM864 119h1v1h-1zM865 120h1v1h-1zM866 121h1v2h-1zM867 123h1v1h-1zM868 124h1v2h-1zM869 126h1v1h-1zM870 127h1v1h-1zM871 128h1v2h-1zM872 130h1v1h-1zM873 131h1v1h-1zM874 132h1v1h-1zM875 133h1v1h-1zM876 134h1v1h-1zM877 135h1v1h-1zM878 136h1v2h-1zM879 138h1v2h-1zM880 140h1v2h-1zM881 142h1v2h-1zM882 144h1v2h-1zM883 146h1v2h-1zM884 148h1v2h-1zM885 150h1v2h-1zM886 152h1v2h-1zM887 154h1v2h-1zM888 156h1v2h-1zM889 158h1v1h-1zM890 159h1v2h-1zM891 161h1v1h-1zM892 162h1v2h-1zM893 164h1v1h-1zM894 165h1v2h-1zM895 167h1v1h-1zM896 168h1v2h-1zM897 170h1v1h-1zM898 171h1v1h-1zM899 171h1v1h-1zM900 172h1v1h-1zM901 173h1v1h-1zM902 174h1v1h-1zM903 175h1v2h-1zM904 177h1v1h-1zM905 178h1v1h-1zM906 179h1v2h-1zM907 181h1v2h-1zM908 183h1v2h-1zM909 185h1v1h-1zM910 186h1v1h-1zM911 187h1v2h-1zM912 189h1v1h-1zM913 190h1v1h-1zM914 191h1v2h-1zM915 193h1v1h-1zM916 194h1v2h-1zM917 196h1v1h-1zM918 197h1v1h-1zM919 198h1v1h-1zM920 199h1v1h-1zM921 200h1v1h-1zM922 200h1v1h-1zM923 200h1v1h-1zM924 201h1v1h-1zM925 201h1v1h-1zM926 201h1v1h-1zM927 201h1v1h-1zM928 202h1v1h-1zM929 202h1v1h-1zM930 202h1v1h-1zM931 202h1v1h-1zM932 202h1v1h-1zM933 202h1v1h-1zM934 201h1v1h-1zM935 199h1v2h-1zM936 198h1v1h-1zM937 196h1v2h-1zM938 194h1v2h-1zM939 192h1v2h-1zM940 190h1v2h-1zM941 189h1v1h-1zM942 187h1v2h-1zM943 185h1v2h-1zM944 183h1v2h-1zM945 182h1v1h-1zM946 181h1v1h-1zM947 180h1v1h-1zM948 179h1v1h-1zM949 178h1v1h-1zM950 177h1v1h-1zM951 176h1v1h-1zM952 175h1v1h-1zM953 174h1v1h-1zM954 173h1v1h-1zM955 171h1v2h-1zM956 170h1v1h-1zM957 169h1v1h-1z" fill="#ffff00"/><path d="M5 271h1v2h-1zM6 273h1v3h-1zM7 276h1v2h-1zM8 278h1v3h-1zM9 281h1v3h-1zM10 284h1v3h-1zM11 287h1v2h-1zM12 289h1v3h-1zM13 292h1v2h-1zM14 294h1v2h-1zM15 296h1v2h-1zM16 298h1v2h-1zM17 300h1v1h-1zM18 301h1v2h-1zM19 303h1v2h-1zM20 305h1v2h-1zM21 307h1v2h-1zM22 309h1v2h-1zM23 311h1v2h-1zM24 313h1v2h-1zM25 315h1v2h-1zM26 317h1v2h-1zM27 319h1v2h-1zM28 321h1v2h-1zM29 323h1v2h-1zM30 325h1v2h-1zM31 327h1v2h-1zM32 329h1v2h-1zM33 331h1v3h-1zM34 334h1v2h-1zM35 336h1v3h-1zM36 339h1v2h-1zM37 341h1v3h-1zM38 344h1v3h-1zM39 347h1v2h-1zM40 349h1v3h-1zM41 352h1v3h-1zM42 355h1v2h-1zM43 357h1v3h-1zM44 360h1v2h-1zM45 362h1v2h-1zM46 364h1v1h-1zM47 365h1v2h-1zM48 367h1v1h-1zM49 368h1v1h-1zM50 368h1v1h-1zM51 369h1v1h-1zM52 369h1v1h-1zM53 370h1v1h-1zM54 370h1v1h-1zM55 370h1v1h-1zM56 371h1v1h-1zM57 371h1v1h-1zM58 372h1v1h-1zM59 373h1v1h-1zM60 374h1v1h-1zM61 375h1v1h-1zM62 375h1v1h-1zM63 375h1v1h-1zM64 376h1v1h-1zM65 376h1v1h-1zM66 376h1v1h-1zM67 375h1v1h-1zM68 375h1v1h-1zM69 374h1v1h-1zM70 375h1v1h-1zM71 375h1v1h-1zM72 376h1v1h-1zM73 377h1v1h-1zM74 378h1v2h-1zM75 380h1v1h-1zM76 381h1v2h-1zM77 383h1v1h-1zM78 384h1v1h-1zM79 384h1v1h-1zM80 385h1v1h-1zM81 386h1v1h-1zM82 387h1v1h-1zM83 387h1v1h-1zM84 388h1v1h-1zM85 389h1v1h-1zM86 389h1v1h-1zM87 389h1v1h-1zM88 389h1v1h-1zM89 389h1v1h-1zM90 388h1v1h-1zM91 388h1v1h-1zM92 387h1v1h-1zM93 386h1v1h-1zM94 387h1v1h-1zM95 387h1v1h-1zM96 388h1v1h-1zM97 389h1v1h-1zM98 389h1v1h-1zM99 389h1v1h-1zM100 388h1v1h-1zM101 388h1v1h-1zM102 388h1v1h-1zM103 388h1v1h-1zM104 388h1v1h-1zM105 388h1v1h-1zM106 388h1v1h-1zM107 388h1v1h-1zM108 388h1v1h-1zM109 388h1v1h-1zM110 388h1v1h-1zM111 388h1v1h-1zM112 387h1v1h-1zM113 387h1v1h-1zM114 387h1v1h-1zM115 387h1v1h-1zM116 388h1v1h-1zM117 388h1v1h-1zM118 388h1v1h-1zM119 389h1v1h-1zM120 389h1v1h-1zM121 390h1v1h-1zM122 390h1v1h-1zM123 390h1v1h-1zM124 390h1v1h-1zM125 390h1v1h-1zM126 390h1v1h-1zM127 390h1v1h-1zM128 390h1v1h-1zM129 390h1v1h-1zM130 390h1v1h-1zM131 390h1v1h-1zM132 389h1v1h-1zM133 389h1v1h-1zM134 388h1v1h-1zM135 388h1v1h-1zM136 387h1v1h-1zM137 386h1v1h-1zM138 386h1v1h-1zM139 385h1v1h-1zM140 385h1v1h-1zM141 384h1v1h-1zM142 383h1v1h-1zM143 383h1v1h-1zM144 382h1v1h-1zM145 381h1v1h-1zM146 380h1v1h-1zM147 379h1v1h-1zM148 378h1v1h-1zM149 377h1v1h-1zM150 376h1v1h-1zM151 375h1v1h-1zM152 374h1v1h-1zM153 373h1v1h-1zM154 372h1v1h-1zM155 371h1v1h-1zM156 370h1v1h-1zM157 369h1v1h-1zM158 367h1v2h-1zM159 366h1v1h-1zM160 364h1v2h-1zM161 362h1v2h-1zM162 360h1v2h-1zM163 358h1v2h-1zM164 356h1v2h-1zM165 353h1v3h-1zM166 350h1v3h-1zM167 346h1v4h-1zM168 343h1v3h-1zM169 339h1v4h-1zM170 335h1v4h-1zM171 330h1v5h-1zM172 326h1v4h-1zM173 321h1v5h-1zM174 317h1v4h-1zM175 313h1v4h-1zM176 309h1v4h-1zM177 306h1v3h-1zM178 303h1v3h-1zM179 300h1v3h-1zM180 297h1v3h-1zM181 294h1v3h-1zM182 292h1v2h-1zM183 290h1v2h-1zM184 288h1v2h-1zM185 286h1v2h-1zM186 284h1v2h-1zM187 282h1v2h-1zM188 280h1v2h-1zM189 279h1v1h-1zM190 279h1v1h-1zM191 278h1v1h-1zM192 278h1v1h-1zM193 277h1v1h-1zM194 277h1v1h-1zM195 278h1v1h-1zM196 278h1v1h-1zM197 279h1v1h-1zM198 280h1v2h-1zM199 282h1v2h-1zM200 284h1v2h-1zM201 286h1v1h-1zM202 287h1v2h-1zM203 289h1v2h-1zM204 291h1v2h-1zM205 293h1v1h-1zM206 293h1v1h-1zM207 292h1v1h-1zM208 292h1v1h-1zM209 291h1v1h-1zM210 290h1v1h-1zM211 289h1v1h-1zM212 288h1v1h-1zM213 286h1v2h-1zM214 284h1v2h-1zM215 282h1v2h-1zM216 280h1v2h-1zM217 279h1v1h-1zM218 279h1v1h-1zM219 279h1v1h-1zM220 279h1v1h-1zM221 279h1v1h-1zM222 279h1v1h-1zM223 279h1v1h-1zM224 278h1v1h-1zM225 278h1v1h-1zM226 277h1v1h-1zM227 277h1v1h-1zM228 276h1v1h-1zM229 275h1v1h-1zM230 273h1v2h-1zM231 271h1v2h-1zM232 269h1v2h-1zM233 268h1v1h-1zM234 267h1v1h-1zM235 265h1v2h-1zM236 264h1v1h-1zM237 263h1v1h-1zM238 261h1v2h-1zM239 259h1v2h-1zM240 257h1v2h-1zM241 256h1v1h-1zM242 256h1v1h-1zM243 256h1v1h-1zM244 255h1v1h-1zM245 255h1v1h-1zM246 253h1v2h-1zM247 251h1v2h-1zM248 249h1v2h-1zM249 247h1v2h-1zM250 245h1v2h-1zM251 243h1v2h-1zM252 241h1v2h-1zM253 239h1v2h-1zM254 237h1v2h-1zM255 234h1v3h-1zM256 232h1v2h-1zM257 230h1v2h-1zM258 229h1v1h-1zM259 229h1v1h-1zM260 228h1v1h-1zM261 227h1v1h-1zM262 225h1v2h-1zM263 224h1v1h-1zM264 222h1v2h-1zM265 221h1v1h-1zM266 220h1v1h-1zM267 219h1v1h-1zM268 218h1v1h-1zM269 216h1v2h-1zM270 214h1v2h-1zM271 212h1v2h-1zM272 210h1v2h-1zM273 206h1v4h-1zM274 202h1v4h-1zM275 198h1v4h-1zM276 194h1v4h-1zM277 190h1v4h-1zM278 187h1v3h-1zM279 184h1v3h-1zM280 181h1v3h-1zM281 179h1v2h-1zM282 178h1v1h-1zM283 178h1v1h-1zM284 177h1v1h-1zM285 176h1v1h-1zM286 176h1v1h-1zM287 175h1v1h-1zM288 175h1v1h-1zM289 174h1v1h-1zM290 174h1v1h-1zM291 174h1v1h-1zM292 175h1v1h-1zM293 175h1v1h-1zM294 175h1v1h-1zM295 176h1v1h-1zM296 176h1v1h-1zM297 177h1v1h-1zM298 178h1v1h-1zM299 179h1v1h-1zM300 180h1v1h-1zM301 181h1v2h-1zM302 183h1v2h-1zM303 185h1v2h-1zM304 187h1v2h-1zM305 189h1v3h-1zM306 192h1v2h-1zM307 194h1v2h-1zM308 196h1v2h-1zM309 198h1v1h-1zM310 199h1v2h-1zM311 201h1v2h-1zM312 203h1v2h-1zM313 205h1v1h-1zM314 206h1v1h-1zM315 207h1v2h-1zM316 209h1v1h-1zM317 210h1v1h-1zM318 211h1v2h-1zM319 213h1v1h-1zM320 214h1v2h-1zM321 216h1v1h-1zM322 217h1v1h-1zM323 217h1v1h-1zM324 218h1v1h-1zM325 219h1v1h-1zM326 219h1v1h-1zM327 219h1v1h-1zM328 220h1v1h-1zM329 220h1v1h-1zM330 221h1v1h-1zM331 221h1v1h-1zM332 222h1v1h-1zM333 223h1v1h-1zM334 223h1v1h-1zM335 223h1v1h-1zM336 224h1v1h-1zM337 224h1v1h-1zM338 222h1v2h-1zM339 221h1v1h-1zM340 219h1v2h-1zM341 218h1v1h-1zM342 217h1v1h-1zM343 215h1v2h-1zM344 214h1v1h-1zM345 213h1v1h-1zM346 211h1v2h-1zM347 210h1v1h-1zM348 208h1v2h-1zM349 207h1v1h-1zM350 207h1v1h-1zM351 207h1v1h-1zM352 206h1v1h-1zM353 206h1v1h-1zM354 206h1v1h-1zM355 206h1v1h-1zM356 207h1v1h-1zM357 207h1v1h-1zM358 207h1v1h-1zM359 207h1v1h-1zM360 208h1v1h-1zM361 208h1v1h-1zM362 208h1v1h-1zM363 208h1v1h-1zM364 207h1v1h-1zM365 207h1v1h-1zM366 207h1v1h-1zM367 208h1v1h-1zM368 208h1v1h-1zM369 209h1v1h-1zM370 209h1v1h-1zM371 209h1v1h-1zM372 209h1v1h-1zM373 209h1v1h-1zM374 208h1v1h-1zM375 208h1v1h-1zM376 207h1v1h-1zM377 205h1v2h-1zM378 203h1v2h-1zM379 201h1v2h-1zM380 199h1v2h-1zM381 196h1v3h-1zM382 192h1v4h-1zM383 187h1v5h-1zM384 183h1v4h-1zM385 178h1v5h-1zM386 174h1v4h-1zM387 169h1v5h-1zM388 165h1v4h-1zM389 160h1v5h-1zM390 156h1v4h-1zM391 152h1v4h-1zM392 148h1v4h-1zM393 145h1v3h-1zM394 143h1v2h-1zM395 141h1v2h-1zM396 139h1v2h-1zM397 138h1v1h-1zM398 138h1v1h-1zM399 137h1v1h-1zM400 137h1v1h-1zM401 136h1v1h-1zM402 137h1v1h-1zM403 137h1v1h-1zM404 138h1v1h-1zM405 139h1v1h-1zM406 139h1v1h-1zM407 138h1v1h-1zM408 138h1v1h-1zM409 137h1v2h-1zM410 139h1v3h-1zM411 142h1v4h-1zM412 146h1v3h-1zM413 149h1v3h-1zM414 152h1v3h-1zM415 155h1v4h-1zM416 159h1v3h-1zM417 162h1v3h-1zM418 165h1v3h-1zM419 168h1v3h-1zM420 171h1v3h-1zM421 174h1v2h-1zM422 175h1v1h-1zM423 176h1v1h-1zM424 176h1v1h-1zM425 177h1v1h-1zM426 177h1v1h-1zM427 176h1v1h-1zM428 176h1v1h-1zM429 175h1v1h-1zM430 175h1v1h-1zM431 176h1v1h-1zM432 176h1v1h-1zM433 177h1v2h-1zM434 179h1v2h-1zM435 181h1v3h-1zM436 184h1v2h-1zM437 186h1v2h-1zM438 188h1v1h-1zM439 189h1v2h-1zM440 191h1v1h-1zM441 192h1v1h-1zM442 193h1v1h-1zM443 194h1v1h-1zM444 195h1v1h-1zM445 196h1v1h-1zM446 195h1v1h-1zM447 195h1v1h-1zM448 194h1v1h-1zM449 193h1v1h-1zM450 192h1v1h-1zM451 191h1v1h-1zM452 190h1v1h-1zM453 189h1v1h-1zM454 189h1v1h-1zM455 188h1v1h-1zM456 188h1v1h-1zM457 187h1v1h-1zM458 185h1v2h-1zM459 184h1v1h-1zM460 182h1v2h-1zM461 180h1v2h-1zM462 178h1v2h-1zM463 176h1v2h-1zM464 174h1v2h-1zM465 172h1v2h-1zM466 170h1v2h-1zM467 168h1v2h-1zM468 166h1v2h-1zM469 164h1v2h-1zM470 162h1v2h-1zM471 160h1v2h-1zM472 158h1v2h-1zM473 157h1v1h-1zM474 157h1v1h-1zM475 157h1v1h-1zM476 158h1v1h-1zM477 158h1v1h-1zM478 158h1v1h-1zM479 158h1v1h-1zM480 159h1v1h-1zM481 159h1v1h-1zM482 158h1v1h-1zM483 156h1v2h-1zM484 155h1v1h-1zM485 154h1v1h-1zM486 152h1v2h-1zM487 151h1v1h-1zM488 149h1v2h-1zM489 148h1v1h-1zM490 146h1v2h-1zM491 144h1v2h-1zM492 142h1v2h-1zM493 140h1v2h-1zM494 138h1v2h-1zM495 135h1v3h-1zM496 133h1v2h-1zM497 131h1v2h-1zM498 130h1v1h-1zM499 128h1v2h-1zM500 127h1v1h-1zM501 126h1v1h-1zM502 126h1v1h-1zM503 125h1v1h-1zM504 125h1v1h-1zM505 124h1v1h-1zM506 124h1v1h-1zM507 124h1v1h-1zM508 125h1v1h-1zM509 125h1v1h-1zM510 126h1v2h-1zM511 128h1v1h-1zM512 129h1v2h-1zM513 131h1v2h-1zM514 133h1v2h-1zM515 135h1v2h-1zM516 137h1v2h-1zM517 139h1v1h-1zM518 140h1v2h-1zM519 142h1v1h-1zM520 143h1v2h-1zM521 145h1v1h-1zM522 146h1v1h-1zM523 147h1v1h-1zM524 148h1v1h-1zM525 149h1v1h-1zM526 150h1v2h-1zM527 152h1v1h-1zM528 153h1v2h-1zM529 155h1v1h-1zM530 155h1v1h-1zM531 156h1v1h-1zM532 156h1v1h-1zM533 157h1v1h-1zM534 157h1v1h-1zM535 157h1v1h-1zM536 158h1v1h-1zM537 158h1v1h-1zM538 159h1v1h-1zM539 160h1v1h-1zM540 161h1v1h-1zM541 162h1v1h-1zM542 162h1v1h-1zM543 163h1v1h-1zM544 163h1v1h-1zM545 164h1v1h-1zM546 165h1v1h-1zM547 166h1v2h-1zM548 168h1v1h-1zM549 169h1v2h-1zM550 171h1v3h-1zM551 174h1v3h-1zM552 177h1v3h-1zM553 180h1v3h-1zM554 183h1v3h-1zM555 186h1v3h-1zM556 189h1v3h-1zM557 192h1v3h-1zM558 195h1v2h-1zM559 197h1v2h-1zM560 199h1v2h-1zM561 201h1v3h-1zM562 204h1v2h-1zM563 206h1v2h-1zM564 208h1v2h-1zM565 210h1v1h-1zM566 211h1v2h-1zM567 213h1v1h-1zM568 214h1v2h-1zM569 216h1v2h-1zM570 218h1v2h-1zM571 220h1v2h-1zM572 222h1v2h-1zM573 224h1v2h-1zM574 226h1v3h-1zM575 229h1v3h-1zM576 232h1v3h-1zM577 235h1v3h-1zM578 238h1v2h-1zM579 240h1v2h-1zM580 242h1v2h-1zM581 244h1v2h-1zM582 246h1v1h-1zM583 247h1v2h-1zM584 249h1v1h-1zM585 250h1v1h-1zM586 251h1v2h-1zM587 253h1v1h-1zM588 254h1v2h-1zM589 256h1v1h-1zM590 257h1v2h-1zM591 259h1v2h-1zM592 261h1v2h-1zM593 263h1v2h-1zM594 265h1v2h-1zM595 267h1v2h-1zM596 269h1v2h-1zM597 271h1v1h-1zM598 272h1v1h-1zM599 273h1v1h-1zM600 274h1v1h-1zM601 275h1v1h-1zM602 275h1v1h-1zM603 275h1v1h-1zM604 276h1v1h-1zM605 276h1v1h-1zM606 276h1v1h-1zM607 276h1v1h-1zM608 276h1v1h-1zM609 276h1v1h-1zM610 276h1v1h-1zM611 276h1v1h-1zM612 276h1v1h-1zM613 276h1v1h-1zM614 276h1v1h-1zM615 276h1v1h-1zM616 275h1v1h-1zM617 275h1v1h-1zM618 275h1v1h-1zM619 275h1v1h-1zM620 274h1v1h-1zM621 274h1v1h-1zM622 274h1v1h-1zM623 274h1v1h-1zM624 273h1v1h-1zM625 273h1v1h-1zM626 273h1v1h-1zM627 273h1v1h-1zM628 273h1v1h-1zM629 273h1v1h-1zM630 273h1v1h-1zM631 273h1v1h-1zM632 272h1v1h-1zM633 272h1v1h-1zM634 272h1v1h-1zM635 272h1v1h-1zM636 272h1v1h-1zM637 272h1v1h-1zM638 272h1v1h-1zM639 272h1v1h-1zM640 271h1v1h-1zM641 271h1v1h-1zM642 271h1v1h-1zM643 271h1v1h-1zM644 271h1v1h-1zM645 271h1v1h-1zM646 270h1v1h-1zM647 268h1v2h-1zM648 267h1v1h-1zM649 266h1v1h-1zM650 264h1v2h-1zM651 263h1v1h-1zM652 261h1v2h-1zM653 260h1v1h-1zM654 259h1v1h-1zM655 258h1v1h-1zM656 257h1v1h-1zM657 256h1v1h-1zM658 255h1v1h-1zM659 254h1v1h-1zM660 253h1v1h-1zM661 252h1v1h-1zM662 251h1v1h-1zM663 251h1v1h-1zM664 250h1v1h-1zM665 249h1v1h-1zM666 248h1v1h-1zM667 247h1v1h-1zM668 246h1v1h-1zM669 244h1v2h-1zM670 241h1v3h-1zM671 238h1v3h-1zM672 235h1v3h-1zM673 233h1v2h-1zM674 231h1v2h-1zM675 230h1v1h-1zM676 228h1v2h-1zM677 227h1v1h-1zM678 226h1v1h-1zM679 224h1v2h-1zM680 223h1v1h-1zM681 222h1v1h-1zM682 221h1v1h-1zM683 221h1v1h-1zM684 220h1v1h-1zM685 219h1v1h-1zM686 217h1v2h-1zM687 215h1v2h-1zM688 213h1v2h-1zM689 211h1v2h-1zM690 209h1v2h-1zM691 206h1v3h-1zM692 204h1v2h-1zM693 202h1v2h-1zM694 200h1v2h-1zM695 198h1v2h-1zM696 196h1v2h-1zM697 195h1v1h-1zM698 194h1v1h-1zM699 193h1v1h-1zM700 192h1v1h-1zM701 191h1v1h-1zM702 190h1v1h-1zM703 188h1v2h-1zM704 187h1v1h-1zM705 185h1v2h-1zM706 183h1v2h-1zM707 181h1v2h-1zM708 179h1v2h-1zM709 176h1v3h-1zM710 174h1v2h-1zM711 172h1v2h-1zM712 170h1v2h-1zM713 168h1v2h-1zM714 167h1v1h-1zM715 165h1v2h-1zM716 164h1v1h-1zM717 163h1v1h-1zM718 162h1v1h-1zM719 162h1v1h-1zM720 161h1v1h-1zM721 159h1v2h-1zM722 157h1v2h-1zM723 154h1v3h-1zM724 152h1v2h-1zM725 150h1v2h-1zM726 149h1v1h-1zM727 148h1v1h-1zM728 147h1v1h-1zM729 146h1v1h-1zM730 145h1v1h-1zM731 144h1v1h-1zM732 143h1v1h-1zM733 142h1v1h-1zM734 141h1v1h-1zM735 139h1v2h-1zM736 138h1v1h-1zM737 137h1v1h-1zM738 135h1v2h-1zM739 133h1v2h-1zM740 131h1v2h-1zM741 129h1v2h-1zM742 127h1v2h-1zM743 125h1v2h-1zM744 123h1v2h-1zM745 120h1v3h-1zM746 118h1v2h-1zM747 115h1v3h-1zM748 113h1v2h-1zM749 111h1v2h-1zM750 111h1v1h-1zM751 110h1v1h-1zM752 110h1v1h-1zM753 109h1v1h-1zM754 109h1v1h-1zM755 108h1v1h-1zM756 108h1v1h-1zM757 107h1v1h-1zM758 108h1v2h-1zM759 110h1v1h-1zM760 111h1v2h-1zM761 113h1v1h-1zM762 114h1v2h-1zM763 116h1v2h-1zM764 118h1v2h-1zM765 120h1v1h-1zM766 121h1v2h-1zM767 123h1v1h-1zM768 124h1v2h-1zM769 126h1v1h-1zM770 127h1v1h-1zM771 128h1v1h-1zM772 129h1v1h-1zM773 130h1v1h-1zM774 131h1v2h-1zM775 133h1v2h-1zM776 135h1v2h-1zM777 137h1v1h-1zM778 137h1v1h-1zM779 137h1v1h-1zM780 137h1v1h-1zM781 137h1v1h-1zM782 135h1v2h-1zM783 134h1v1h-1zM784 132h1v2h-1zM785 130h1v2h-1zM786 128h1v2h-1zM787 125h1v3h-1zM788 123h1v2h-1zM789 121h1v2h-1zM790 119h1v2h-1zM791 117h1v2h-1zM792 115h1v2h-1zM793 113h1v2h-1zM794 111h1v2h-1zM795 108h1v3h-1zM796 106h1v2h-1zM797 103h1v3h-1zM798 101h1v2h-1zM799 99h1v2h-1zM800 97h1v2h-1zM801 94h1v3h-1zM802 91h1v3h-1zM803 88h1v3h-1zM804 85h1v3h-1zM805 83h1v2h-1zM806 81h1v2h-1zM807 79h1v2h-1zM808 77h1v2h-1zM809 76h1v1h-1zM810 76h1v1h-1zM811 76h1v1h-1zM812 77h1v1h-1zM813 77h1v1h-1zM814 77h1v1h-1zM815 77h1v1h-1zM816 78h1v1h-1zM817 78h1v1h-1zM818 78h1v1h-1zM819 77h1v1h-1zM820 77h1v1h-1zM821 76h1v1h-1zM822 77h1v1h-1zM823 78h1v1h-1zM824 79h1v1h-1zM825 80h1v1h-1zM826 81h1v2h-1zM827 83h1v1h-1zM828 84h1v2h-1zM829 86h1v1h-1zM830 87h1v2h-1zM831 89h1v2h-1zM832 91h1v2h-1zM833 93h1v2h-1zM834 95h1v2h-1zM835 97h1v2h-1zM836 99h1v2h-1zM837 101h1v1h-1zM838 102h1v2h-1zM839 104h1v1h-1zM840 105h1v2h-1zM841 107h1v2h-1zM842 109h1v2h-1zM843 111h1v3h-1zM844 114h1v2h-1zM845 116h1v3h-1zM846 119h1v2h-1zM847 121h1v2h-1zM848 123h1v2h-1zM849 125h1v1h-1zM850 126h1v1h-1zM851 127h1v1h-1zM852 128h1v1h-1zM853 129h1v1h-1zM854 130h1v1h-1zM855 131h1v1h-1zM856 132h1v1h-1zM857 133h1v1h-1zM858 134h1v1h-1zM859 135h1v1h-1zM860 136h1v1h-1zM861 137h1v1h-1zM862 137h1v1h-1zM863 138h1v1h-1zM864 138h1v1h-1zM865 139h1v1h-1zM866 140h1v2h-1zM867 142h1v2h-1zM868 144h1v2h-1zM869 146h1v1h-1zM870 146h1v1h-1zM871 146h1v1h-1zM872 145h1v1h-1zM873 145h1v1h-1zM874 145h1v1h-1zM875 145h1v1h-1zM876 145h1v1h-1zM877 145h1v2h-1zM878 147h1v2h-1zM879 149h1v3h-1zM880 152h1v2h-1zM881 154h1v3h-1zM882 157h1v3h-1zM883 160h1v2h-1zM884 162h1v3h-1zM885 165h1v3h-1zM886 168h1v4h-1zM887 172h1v3h-1zM888 175h1v4h-1zM889 179h1v3h-1zM890 182h1v2h-1zM891 184h1v2h-1zM892 186h1v2h-1zM893 188h1v2h-1zM894 190h1v1h-1zM895 191h1v2h-1zM896 193h1v1h-1zM897 194h1v2h-1zM898 196h1v2h-1zM899 198h1v2h-1zM900 200h1v2h-1zM901 202h1v2h-1zM902 204h1v2h-1zM903 206h1v2h-1zM904 208h1v2h-1zM905 210h1v2h-1zM906 212h1v1h-1zM907 213h1v1h-1zM908 214h1v1h-1zM909 215h1v1h-1zM910 215h1v1h-1zM911 215h1v1h-1zM912 215h1v1h-1zM913 215h1v1h-1zM914 214h1v1h-1zM915 214h1v1h-1zM916 213h1v1h-1zM917 212h1v1h-1zM918 212h1v1h-1zM919 212h1v1h-1zM920 212h1v1h-1zM921 212h1v1h-1zM922 211h1v1h-1zM923 209h1v2h-1zM924 208h1v1h-1zM925 207h1v1h-1zM926 205h1v2h-1zM927 204h1v1h-1zM928 202h1v2h-1zM929 200h1v2h-1zM930 198h1v2h-1zM931 196h1v2h-1zM932 194h1v2h-1zM933 191h1v3h-1zM934 188h1v3h-1zM935 184h1v4h-1zM936 181h1v3h-1zM937 177h1v4h-1zM938 173h1v4h-1zM939 169h1v4h-1zM940 165h1v4h-1zM941 162h1v3h-1zM942 160h1v2h-1zM943 157h1v3h-1zM944 155h1v2h-1zM945 152h1v3h-1zM946 150h1v2h-1zM947 148h1v2h-1zM948 146h1v2h-1zM949 144h1v2h-1zM950 143h1v1h-1zM951 143h1v1h-1zM952 142h1v1h-1zM953 141h1v1h-1zM954 140h1v1h-1zM955 139h1v1h-1zM956 138h1v1h-1zM957 137h1v1h-1z" fill="#ff0000"/><path d="M5 456h1v1h-1zM6 456h1v1h-1zM7 456h1v1h-1zM11 457h1v1h-1zM12 458h1v1h-1zM13 458h1v1h-1zM17 459h1v1h-1zM18 459h1v1h-1zM19 459h1v1h-1zM23 460h1v1h-1zM24 461h1v1h-1zM25 461h1v1h-1zM29 462h1v1h-1zM30 462h1v1h-1zM31 462h1v1h-1zM35 463h1v1h-1zM36 464h1v1h-1zM37 464h1v1h-1zM41 465h1v1h-1zM42 465h1v1h-1zM43 465h1v1h-1zM47 465h1v1h-1zM48 466h1v1h-1zM49 466h1v1h-1zM53 467h1v1h-1zM54 467h1v1h-1zM55 467h1v1h-1zM59 467h1v1h-1zM60 468h1v1h-1zM61 468h1v1h-1zM65 468h1v1h-1zM66 468h1v1h-1zM67 468h1v1h-1zM71 468h1v1h-1zM72 467h1v1h-1zM73 467h1v1h-1zM77 467h1v1h-1zM78 467h1v1h-1zM79 467h1v1h-1zM83 467h1v1h-1zM84 467h1v1h-1zM85 467h1v1h-1zM89 466h1v1h-1zM90 466h1v1h-1zM91 466h1v1h-1zM95 466h1v1h-1zM96 465h1v1h-1zM97 465h1v1h-1zM101 465h1v1h-1zM102 465h1v1h-1zM103 465h1v1h-1zM107 464h1v1h-1zM108 464h1v1h-1zM109 464h1v1h-1zM113 463h1v1h-1zM114 463h1v1h-1zM115 463h1v1h-1zM119 462h1v1h-1zM120 462h1v1h-1zM121 462h1v1h-1zM125 461h1v1h-1zM126 461h1v1h-1zM127 461h1v1h-1zM131 460h1v1h-1zM132 460h1v1h-1zM133 460h1v1h-1zM137 459h1v1h-1zM138 459h1v1h-1zM139 459h1v1h-1zM143 458h1v1h-1zM144 458h1v1h-1zM145 458h1v1h-1zM149 457h1v1h-1zM150 457h1v1h-1zM151 457h1v1h-1zM155 456h1v1h-1zM156 455h1v1h-1zM157 455h1v1h-1zM161 454h1v1h-1zM162 454h1v1h-1zM163 454h1v1h-1zM167 453h1v1h-1zM168 452h1v1h-1zM169 452h1v1h-1zM173 450h1v1h-1zM174 450h1v1h-1zM175 449h1v1h-1zM179 448h1v1h-1zM180 447h1v1h-1zM181 447h1v1h-1zM185 445h1v1h-1zM186 445h1v1h-1zM187 444h1v1h-1zM191 443h1v1h-1zM192 442h1v1h-1zM193 442h1v1h-1zM197 441h1v1h-1zM198 441h1v1h-1zM199 441h1v1h-1zM203 440h1v1h-1zM204 439h1v1h-1zM205 439h1v1h-1zM209 439h1v1h-1zM210 439h1v1h-1zM211 439h1v1h-1zM215 439h1v1h-1zM216 439h1v1h-1zM217 439h1v1h-1zM221 439h1v1h-1zM222 439h1v1h-1zM223 439h1v1h-1zM227 439h1v1h-1zM228 440h1v1h-1zM229 440h1v1h-1zM233 440h1v1h-1zM234 440h1v1h-1zM235 440h1v1h-1zM239 439h1v1h-1zM240 439h1v1h-1zM241 439h1v1h-1zM245 439h1v1h-1zM246 439h1v1h-1zM247 439h1v1h-1zM251 439h1v1h-1zM252 439h1v1h-1zM253 439h1v1h-1zM257 438h1v1h-1zM258 438h1v1h-1zM259 438h1v1h-1zM263 438h1v1h-1zM264 437h1v1h-1zM265 437h1v1h-1zM269 437h1v1h-1zM270 437h1v1h-1zM271 437h1v1h-1zM275 436h1v1h-1zM276 436h1v1h-1zM277 436h1v1h-1zM281 435h1v1h-1zM282 435h1v1h-1zM283 435h1v1h-1zM287 434h1v1h-1zM288 434h1v1h-1zM289 434h1v1h-1zM293 434h1v1h-1zM294 434h1v1h-1zM295 434h1v1h-1zM299 434h1v1h-1zM300 434h1v1h-1zM301 434h1v1h-1zM305 434h1v1h-1zM306 434h1v1h-1zM307 434h1v1h-1zM311 435h1v1h-1zM312 436h1v1h-1zM313 436h1v1h-1zM317 437h1v1h-1zM318 437h1v1h-1zM319 438h1v1h-1zM323 439h1v1h-1zM324 440h1v1h-1zM325 440h1v1h-1zM329 441h1v1h-1zM330 441h1v1h-1zM331 441h1v1h-1zM335 442h1v1h-1zM336 443h1v1h-1zM337 443h1v1h-1zM341 444h1v1h-1zM342 444h1v1h-1zM343 444h1v1h-1zM347 445h1v1h-1zM348 446h1v1h-1zM349 446h1v1h-1zM353 446h1v1h-1zM354 446h1v1h-1zM355 446h1v1h-1zM359 446h1v1h-1zM360 446h1v1h-1zM361 446h1v1h-1zM365 446h1v1h-1zM366 446h1v1h-1zM367 446h1v1h-1zM371 447h1v1h-1zM372 447h1v1h-1zM373 447h1v1h-1zM377 447h1v1h-1zM378 447h1v1h-1zM379 447h1v1h-1zM383 447h1v1h-1zM384 446h1v1h-1zM385 446h1v1h-1zM389 445h1v1h-1zM390 445h1v1h-1zM391 445h1v1h-1zM395 444h1v1h-1zM396 443h1v1h-1zM397 443h1v1h-1zM401 442h1v1h-1zM402 442h1v1h-1zM403 442h1v1h-1zM407 441h1v1h-1zM408 441h1v1h-1zM409 441h1v1h-1zM413 440h1v1h-1zM414 440h1v1h-1zM415 440h1v1h-1zM419 440h1v1h-1zM420 441h1v1h-1zM421 441h1v1h-1zM425 441h1v1h-1zM426 441h1v1h-1zM427 441h1v1h-1zM431 443h1v1h-1zM432 443h1v1h-1zM433 444h1v1h-1zM437 445h1v1h-1zM438 445h1v1h-1zM439 445h1v1h-1zM443 446h1v1h-1zM444 447h1v1h-1zM445 447h1v1h-1zM449 448h1v1h-1zM450 448h1v1h-1zM451 448h1v1h-1zM455 448h1v1h-1zM456 448h1v1h-1zM457 448h1v1h-1zM461 449h1v1h-1zM462 449h1v1h-1zM463 449h1v1h-1zM467 449h1v1h-1zM468 449h1v1h-1zM469 449h1v1h-1zM473 448h1v1h-1zM474 448h1v1h-1zM475 448h1v1h-1zM479 448h1v1h-1zM480 447h1v1h-1zM481 447h1v1h-1zM485 447h1v1h-1zM486 447h1v1h-1zM487 447h1v1h-1zM491 446h1v1h-1zM492 446h1v1h-1zM493 446h1v1h-1zM497 445h1v1h-1zM498 445h1v1h-1zM499 445h1v1h-1zM503 444h1v1h-1zM504 444h1v1h-1zM505 444h1v1h-1zM509 444h1v1h-1zM510 444h1v1h-1zM511 444h1v1h-1zM515 443h1v1h-1zM516 443h1v1h-1zM517 443h1v1h-1zM521 444h1v1h-1zM522 444h1v1h-1zM523 444h1v1h-1zM527 444h1v1h-1zM528 444h1v1h-1zM529 444h1v1h-1zM533 445h1v1h-1zM534 445h1v1h-1zM535 445h1v1h-1zM539 446h1v1h-1zM540 447h1v1h-1zM541 447h1v1h-1zM545 448h1v1h-1zM546 448h1v1h-1zM547 448h1v1h-1zM551 449h1v1h-1zM552 449h1v1h-1zM553 449h1v1h-1zM557 450h1v1h-1zM558 450h1v1h-1zM559 451h1v1h-1zM563 452h1v1h-1zM564 453h1v1h-1zM565 453h1v1h-1zM569 454h1v1h-1zM570 454h1v1h-1zM571 454h1v1h-1zM575 456h1v1h-1zM576 456h1v1h-1zM577 457h1v1h-1zM581 458h1v1h-1zM582 458h1v1h-1zM583 458h1v1h-1zM587 459h1v1h-1zM588 460h1v1h-1zM589 460h1v1h-1zM593 461h1v1h-1zM594 461h1v1h-1zM595 461h1v1h-1zM599 462h1v1h-1zM600 463h1v1h-1zM601 463h1v1h-1zM605 464h1v1h-1zM606 464h1v1h-1zM607 464h1v1h-1zM611 464h1v1h-1zM612 464h1v1h-1zM613 464h1v1h-1zM617 464h1v1h-1zM618 464h1v1h-1zM619 464h1v1h-1zM623 464h1v1h-1zM624 464h1v1h-1zM625 464h1v1h-1zM629 464h1v1h-1zM630 464h1v1h-1zM631 464h1v1h-1zM635 463h1v1h-1zM636 462h1v1h-1zM637 462h1v1h-1zM641 462h1v1h-1zM642 462h1v1h-1zM643 462h1v1h-1zM647 461h1v1h-1zM648 460h1v1h-1zM649 460h1v1h-1zM653 459h1v1h-1zM654 459h1v1h-1zM655 459h1v1h-1zM659 459h1v1h-1zM660 458h1v1h-1zM661 458h1v1h-1zM665 457h1v1h-1zM666 457h1v1h-1zM667 457h1v1h-1zM671 455h1v1h-1zM672 455h1v1h-1zM673 454h1v1h-1zM677 453h1v1h-1zM678 453h1v1h-1zM679 453h1v1h-1zM683 452h1v1h-1zM684 451h1v1h-1zM685 451h1v1h-1zM689 450h1v1h-1zM690 450h1v1h-1zM691 449h1v1h-1zM695 448h1v1h-1zM696 447h1v1h-1zM697 447h1v1h-1zM701 446h1v1h-1zM702 446h1v1h-1zM703 446h1v1h-1zM707 445h1v1h-1zM708 444h1v1h-1zM709 444h1v1h-1zM713 443h1v1h-1zM714 443h1v1h-1zM715 443h1v1h-1zM719 442h1v1h-1zM720 441h1v1h-1zM721 441h1v1h-1zM725 440h1v1h-1zM726 440h1v1h-1zM727 440h1v1h-1zM731 439h1v1h-1zM732 439h1v1h-1zM733 439h1v1h-1zM737 438h1v1h-1zM738 438h1v1h-1zM739 438h1v1h-1zM743 437h1v1h-1zM744 437h1v1h-1zM745 437h1v1h-1zM749 436h1v1h-1zM750 436h1v1h-1zM751 436h1v1h-1zM755 436h1v1h-1zM756 435h1v1h-1zM757 435h1v1h-1zM761 435h1v1h-1zM762 435h1v1h-1zM763 435h1v1h-1zM767 436h1v1h-1zM768 436h1v1h-1zM769 436h1v1h-1zM773 437h1v1h-1zM774 437h1v1h-1zM775 437h1v1h-1zM779 437h1v1h-1zM780 438h1v1h-1zM781 438h1v1h-1zM785 439h1v1h-1zM786 439h1v1h-1zM787 439h1v1h-1zM791 440h1v1h-1zM792 440h1v1h-1zM793 440h1v1h-1zM797 440h1v1h-1zM798 440h1v1h-1zM799 440h1v1h-1zM803 440h1v1h-1zM804 440h1v1h-1zM805 440h1v1h-1zM809 439h1v1h-1zM810 439h1v1h-1zM811 439h1v1h-1zM815 439h1v1h-1zM816 438h1v1h-1zM817 438h1v1h-1zM821 438h1v1h-1zM822 438h1v1h-1zM823 438h1v1h-1zM827 439h1v1h-1zM828 439h1v1h-1zM829 439h1v1h-1zM833 439h1v1h-1zM834 439h1v1h-1zM835 439h1v1h-1zM839 440h1v1h-1zM840 441h1v1h-1zM841 441h1v1h-1zM845 442h1v1h-1zM846 442h1v1h-1zM847 443h1v1h-1zM851 444h1v1h-1zM852 445h1v1h-1zM853 445h1v1h-1zM857 446h1v1h-1zM858 446h1v1h-1zM859 446h1v1h-1zM863 447h1v1h-1zM864 448h1v1h-1zM865 448h1v1h-1zM869 450h1v1h-1zM870 450h1v1h-1zM871 450h1v1h-1zM875 451h1v1h-1zM876 452h1v1h-1zM877 452h1v1h-1zM881 453h1v1h-1zM882 453h1v1h-1zM883 453h1v1h-1zM887 454h1v1h-1zM888 454h1v1h-1zM889 455h1v1h-1zM893 456h1v1h-1zM894 456h1v1h-1zM895 456h1v1h-1zM899 457h1v1h-1zM900 458h1v1h-1zM901 458h1v1h-1zM905 459h1v1h-1zM906 459h1v1h-1zM907 459h1v1h-1zM911 460h1v1h-1zM912 461h1v1h-1zM913 461h1v1h-1zM917 462h1v1h-1zM918 462h1v1h-1zM919 462h1v1h-1zM923 462h1v1h-1zM924 462h1v1h-1zM925 462h1v1h-1zM929 461h1v1h-1zM930 461h1v1h-1zM931 461h1v1h-1zM935 461h1v1h-1zM936 460h1v1h-1zM937 460h1v1h-1zM941 458h1v1h-1zM942 458h1v1h-1zM943 458h1v1h-1zM947 456h1v1h-1zM948 456h1v1h-1zM949 455h1v1h-1zM953 453h1v1h-1zM954 453h1v1h-1zM955 453h1v1h-1z" fill="#ff0000"/><path d="M5 548h1v1h-1zM6 548h1v1h-1zM7 548h1v1h-1zM8 549h1v1h-1zM9 549h1v1h-1zM10 549h1v1h-1zM11 549h1v1h-1zM12 548h1v1h-1zM13 548h1v1h-1zM14 547h1v1h-1zM15 547h1v1h-1zM16 546h1v1h-1zM17 545h1v1h-1zM18 545h1v1h-1zM19 546h1v1h-1zM20 546h1v1h-1zM21 547h1v1h-1zM22 548h1v2h-1zM23 550h1v2h-1zM24 552h1v2h-1zM25 554h1v1h-1zM26 554h1v1h-1zM27 554h1v1h-1zM28 555h1v1h-1zM29 555h1v1h-1zM30 555h1v1h-1zM31 555h1v1h-1zM32 556h1v1h-1zM33 556h1v1h-1zM34 556h1v1h-1zM35 556h1v1h-1zM36 557h1v1h-1zM37 557h1v1h-1zM38 557h1v1h-1zM39 557h1v1h-1zM40 556h1v1h-1zM41 556h1v1h-1zM42 555h1v1h-1zM43 554h1v1h-1zM44 553h1v1h-1zM45 551h1v2h-1zM46 549h1v2h-1zM47 547h1v2h-1zM48 545h1v2h-1zM49 544h1v1h-1zM50 545h1v1h-1zM51 545h1v1h-1zM52 546h1v1h-1zM53 547h1v1h-1zM54 547h1v1h-1zM55 547h1v1h-1zM56 548h1v1h-1zM57 548h1v1h-1zM58 549h1v1h-1zM59 549h1v1h-1zM60 550h1v1h-1zM61 551h1v1h-1zM62 551h1v1h-1zM63 550h1v1h-1zM64 550h1v1h-1zM65 548h1v2h-1zM66 546h1v2h-1zM67 544h1v2h-1zM68 542h1v2h-1zM69 540h1v2h-1zM70 541h1v1h-1zM71 542h1v2h-1zM72 544h1v1h-1zM73 545h1v1h-1zM74 545h1v1h-1zM75 545h1v1h-1zM76 545h1v1h-1zM77 545h1v1h-1zM78 545h1v1h-1zM79 545h1v1h-1zM80 544h1v1h-1zM81 544h1v1h-1zM82 544h1v1h-1zM83 545h1v1h-1zM84 545h1v1h-1zM85 546h1v1h-1zM86 545h1v1h-1zM87 545h1v1h-1zM88 544h1v1h-1zM89 542h1v2h-1zM90 540h1v2h-1zM91 538h1v2h-1zM92 536h1v2h-1zM93 534h1v2h-1zM94 535h1v1h-1zM95 536h1v2h-1zM96 538h1v1h-1zM97 539h1v1h-1zM98 539h1v1h-1zM99 539h1v1h-1zM100 538h1v1h-1zM101 538h1v1h-1zM102 538h1v1h-1zM103 538h1v1h-1zM104 538h1v1h-1zM105 538h1v1h-1zM106 538h1v1h-1zM107 539h1v1h-1zM108 539h1v1h-1zM109 540h1v1h-1zM110 540h1v1h-1zM111 539h1v1h-1zM112 539h1v1h-1zM113 538h1v1h-1zM114 539h1v1h-1zM115 539h1v1h-1zM116 540h1v1h-1zM117 540h1v2h-1zM118 538h1v2h-1zM119 535h1v3h-1zM120 533h1v2h-1zM121 531h1v2h-1zM122 532h1v1h-1zM123 533h1v1h-1zM124 534h1v1h-1zM125 535h1v1h-1zM126 535h1v1h-1zM127 535h1v1h-1zM128 535h1v1h-1zM129 535h1v1h-1zM130 535h1v1h-1zM131 534h1v1h-1zM132 534h1v1h-1zM133 533h1v1h-1zM134 532h1v1h-1zM135 531h1v1h-1zM136 530h1v1h-1zM137 529h1v1h-1zM138 529h1v1h-1zM139 529h1v1h-1zM140 529h1v1h-1zM141 529h1v1h-1zM142 530h1v1h-1zM143 530h1v1h-1zM144 531h1v1h-1zM145 531h1v2h-1zM146 529h1v2h-1zM147 526h1v3h-1zM148 524h1v2h-1zM149 522h1v2h-1zM150 522h1v1h-1zM151 522h1v1h-1zM152 523h1v1h-1zM153 523h1v1h-1zM154 524h1v1h-1zM155 524h1v1h-1zM156 525h1v1h-1zM157 526h1v1h-1zM158 524h1v2h-1zM159 523h1v1h-1zM160 521h1v2h-1zM161 519h1v2h-1zM162 517h1v2h-1zM163 515h1v2h-1zM164 513h1v2h-1zM165 512h1v1h-1zM166 511h1v1h-1zM167 509h1v2h-1zM168 508h1v1h-1zM169 507h1v1h-1zM170 506h1v1h-1zM171 504h1v2h-1zM172 503h1v1h-1zM173 502h1v1h-1zM174 502h1v1h-1zM175 502h1v1h-1zM176 501h1v1h-1zM177 501h1v2h-1zM178 503h1v3h-1zM179 506h1v2h-1zM180 508h1v3h-1zM181 511h1v2h-1zM182 513h1v2h-1zM183 515h1v2h-1zM184 517h1v2h-1zM185 519h1v1h-1zM186 519h1v1h-1zM187 519h1v1h-1zM188 519h1v1h-1zM189 519h1v1h-1zM190 519h1v1h-1zM191 519h1v1h-1zM192 518h1v1h-1zM193 518h1v1h-1zM194 518h1v1h-1zM195 519h1v1h-1zM196 519h1v1h-1zM197 520h1v1h-1zM198 520h1v1h-1zM199 521h1v1h-1zM200 521h1v1h-1zM201 522h1v1h-1zM202 521h1v1h-1zM203 520h1v1h-1zM204 519h1v1h-1zM205 518h1v1h-1zM206 517h1v1h-1zM207 515h1v2h-1zM208 514h1v1h-1zM209 513h1v1h-1zM210 513h1v1h-1zM211 513h1v1h-1zM212 514h1v1h-1zM213 514h1v1h-1zM214 513h1v1h-1zM215 512h1v1h-1zM216 511h1v1h-1zM217 510h1v2h-1zM218 512h1v4h-1zM219 516h1v3h-1zM220 519h1v4h-1zM221 523h1v2h-1zM222 524h1v1h-1zM223 524h1v1h-1zM224 523h1v1h-1zM225 523h1v1h-1zM226 523h1v1h-1zM227 523h1v1h-1zM228 522h1v1h-1zM229 521h1v2h-1zM230 519h1v2h-1zM231 517h1v2h-1zM232 515h1v2h-1zM233 514h1v1h-1zM234 514h1v1h-1zM235 513h1v1h-1zM236 513h1v1h-1zM237 512h1v1h-1zM238 511h1v1h-1zM239 511h1v1h-1zM240 510h1v1h-1zM241 509h1v2h-1zM242 511h1v2h-1zM243 513h1v2h-1zM244 515h1v2h-1zM245 517h1v2h-1zM246 518h1v1h-1zM247 518h1v1h-1zM248 518h1v1h-1zM249 518h1v1h-1zM250 518h1v1h-1zM251 518h1v1h-1zM252 517h1v1h-1zM253 517h1v1h-1zM254 516h1v1h-1zM255 515h1v1h-1zM256 514h1v1h-1zM257 513h1v1h-1zM258 513h1v1h-1zM259 513h1v1h-1zM260 514h1v1h-1zM261 514h1v1h-1zM262 513h1v1h-1zM263 511h1v2h-1zM264 510h1v1h-1zM265 509h1v1h-1zM266 509h1v1h-1zM267 509h1v1h-1zM268 508h1v1h-1zM269 508h1v1h-1zM270 508h1v1h-1zM271 508h1v1h-1zM272 508h1v1h-1zM273 508h1v1h-1zM274 506h1v2h-1zM275 504h1v2h-1zM276 502h1v2h-1zM277 501h1v2h-1zM278 503h1v2h-1zM279 505h1v2h-1zM280 507h1v2h-1zM281 509h1v3h-1zM282 512h1v2h-1zM283 514h1v3h-1zM284 517h1v2h-1zM285 519h1v2h-1zM286 520h1v1h-1zM287 520h1v1h-1zM288 521h1v1h-1zM289 521h1v1h-1zM290 521h1v1h-1zM291 521h1v1h-1zM292 520h1v1h-1zM293 520h1v1h-1zM294 520h1v1h-1zM295 520h1v1h-1zM296 520h1v1h-1zM297 520h1v1h-1zM298 521h1v1h-1zM299 521h1v1h-1zM300 522h1v1h-1zM301 523h1v1h-1zM302 522h1v1h-1zM303 521h1v1h-1zM304 520h1v1h-1zM305 519h1v1h-1zM306 520h1v2h-1zM307 522h1v2h-1zM308 524h1v2h-1zM309 526h1v1h-1zM310 527h1v2h-1zM311 529h1v1h-1zM312 530h1v2h-1zM313 532h1v1h-1zM314 531h1v1h-1zM315 531h1v1h-1zM316 530h1v1h-1zM317 529h1v1h-1zM318 529h1v1h-1zM319 529h1v1h-1zM320 530h1v1h-1zM321 530h1v1h-1zM322 529h1v1h-1zM323 529h1v1h-1zM324 528h1v1h-1zM325 527h1v1h-1zM326 526h1v1h-1zM327 526h1v1h-1zM328 525h1v1h-1zM329 524h1v1h-1zM330 524h1v1h-1zM331 524h1v1h-1zM332 523h1v1h-1zM333 523h1v1h-1zM334 524h1v1h-1zM335 525h1v2h-1zM336 527h1v1h-1zM337 528h1v1h-1zM338 527h1v1h-1zM339 525h1v2h-1zM340 524h1v1h-1zM341 523h1v1h-1zM342 523h1v1h-1zM343 522h1v1h-1zM344 522h1v1h-1zM345 521h1v1h-1zM346 521h1v1h-1zM347 521h1v1h-1zM348 521h1v1h-1zM349 521h1v1h-1zM350 522h1v2h-1zM351 524h1v1h-1zM352 525h1v2h-1zM353 527h1v1h-1zM354 527h1v1h-1zM355 527h1v1h-1zM356 528h1v1h-1zM357 528h1v1h-1zM358 528h1v1h-1zM359 528h1v1h-1zM360 527h1v1h-1zM361 527h1v1h-1zM362 527h1v1h-1zM363 527h1v1h-1zM364 527h1v1h-1zM365 527h1v1h-1zM366 527h1v1h-1zM367 527h1v1h-1zM368 527h1v1h-1zM369 527h1v1h-1zM370 525h1v2h-1zM371 524h1v1h-1zM372 522h1v2h-1zM373 521h1v1h-1zM374 520h1v1h-1zM375 518h1v2h-1zM376 517h1v1h-1zM377 516h1v1h-1zM378 515h1v1h-1zM379 515h1v1h-1zM380 514h1v1h-1zM381 512h1v2h-1zM382 510h1v2h-1zM383 507h1v3h-1zM384 505h1v2h-1zM385 503h1v2h-1zM386 503h1v1h-1zM387 503h1v1h-1zM388 502h1v1h-1zM389 502h1v1h-1zM390 503h1v1h-1zM391 503h1v1h-1zM392 504h1v1h-1zM393 505h1v3h-1zM394 508h1v4h-1zM395 512h1v5h-1zM396 517h1v4h-1zM397 521h1v3h-1zM398 524h1v1h-1zM399 525h1v2h-1zM400 527h1v1h-1zM401 528h1v1h-1zM402 528h1v1h-1zM403 528h1v1h-1zM404 528h1v1h-1zM405 528h1v1h-1zM406 526h1v2h-1zM407 524h1v2h-1zM408 522h1v2h-1zM409 521h1v1h-1zM410 522h1v2h-1zM411 524h1v1h-1zM412 525h1v2h-1zM413 527h1v1h-1zM414 527h1v1h-1zM415 527h1v1h-1zM416 527h1v1h-1zM417 527h1v1h-1zM418 527h1v1h-1zM419 527h1v1h-1zM420 528h1v1h-1zM421 528h1v1h-1zM422 528h1v1h-1zM423 527h1v1h-1zM424 527h1v1h-1zM425 526h1v1h-1zM426 526h1v1h-1zM427 526h1v1h-1zM428 526h1v1h-1zM429 526h1v1h-1zM430 527h1v2h-1zM431 529h1v1h-1zM432 530h1v2h-1zM433 532h1v1h-1zM434 533h1v1h-1zM435 533h1v1h-1zM436 534h1v1h-1zM437 535h1v1h-1zM438 535h1v1h-1zM439 535h1v1h-1zM440 534h1v1h-1zM441 534h1v1h-1zM442 534h1v1h-1zM443 534h1v1h-1zM444 533h1v1h-1zM445 532h1v2h-1zM446 530h1v2h-1zM447 527h1v3h-1zM448 525h1v2h-1zM449 523h1v2h-1zM450 522h1v1h-1zM451 521h1v1h-1zM452 520h1v1h-1zM453 519h1v1h-1zM454 520h1v1h-1zM455 520h1v1h-1zM456 521h1v1h-1zM457 522h1v1h-1zM458 522h1v1h-1zM459 522h1v1h-1zM460 523h1v1h-1zM461 523h1v1h-1zM462 523h1v1h-1zM463 522h1v1h-1zM464 522h1v1h-1zM465 521h1v1h-1zM466 522h1v1h-1zM467 522h1v1h-1zM468 523h1v1h-1zM469 524h1v1h-1zM470 523h1v1h-1zM471 522h1v1h-1zM472 521h1v1h-1zM473 520h1v1h-1zM474 521h1v2h-1zM475 523h1v2h-1zM476 525h1v2h-1zM477 527h1v1h-1zM478 526h1v1h-1zM479 524h1v2h-1zM480 523h1v1h-1zM481 522h1v1h-1zM482 521h1v1h-1zM483 519h1v2h-1zM484 518h1v1h-1zM485 517h1v1h-1zM486 517h1v1h-1zM487 517h1v1h-1zM488 516h1v1h-1zM489 516h1v1h-1zM490 515h1v1h-1zM491 515h1v1h-1zM492 514h1v1h-1zM493 513h1v1h-1zM494 513h1v1h-1zM495 513h1v1h-1zM496 513h1v1h-1zM497 513h1v1h-1zM498 514h1v1h-1zM499 514h1v1h-1zM500 515h1v1h-1zM501 516h1v2h-1zM502 518h1v3h-1zM503 521h1v3h-1zM504 524h1v3h-1zM505 527h1v2h-1zM506 528h1v1h-1zM507 528h1v1h-1zM508 529h1v1h-1zM509 529h1v1h-1zM510 529h1v1h-1zM511 529h1v1h-1zM512 530h1v1h-1zM513 530h1v1h-1zM514 530h1v1h-1zM515 531h1v1h-1zM516 531h1v1h-1zM517 532h1v1h-1zM518 530h1v2h-1zM519 529h1v1h-1zM520 527h1v2h-1zM521 526h1v1h-1zM522 525h1v1h-1zM523 523h1v2h-1zM524 522h1v1h-1zM525 521h1v1h-1zM526 522h1v2h-1zM527 524h1v1h-1zM528 525h1v2h-1zM529 527h1v1h-1zM530 528h1v1h-1zM531 529h1v1h-1zM532 530h1v1h-1zM533 531h1v1h-1zM534 531h1v1h-1zM535 531h1v1h-1zM536 531h1v1h-1zM537 531h1v1h-1zM538 532h1v1h-1zM539 533h1v1h-1zM540 534h1v1h-1zM541 535h1v1h-1zM542 535h1v1h-1zM543 535h1v1h-1zM544 535h1v1h-1zM545 535h1v1h-1zM546 535h1v1h-1zM547 535h1v1h-1zM548 535h1v1h-1zM549 535h1v1h-1zM550 536h1v1h-1zM551 536h1v1h-1zM552 537h1v1h-1zM553 538h1v1h-1zM554 539h1v2h-1zM555 541h1v1h-1zM556 542h1v2h-1zM557 544h1v1h-1zM558 544h1v1h-1zM559 543h1v1h-1zM560 543h1v1h-1zM561 542h1v1h-1zM562 542h1v1h-1zM563 542h1v1h-1zM564 542h1v1h-1zM565 542h1v1h-1zM566 542h1v1h-1zM567 542h1v1h-1zM568 542h1v1h-1zM569 542h1v1h-1zM570 543h1v1h-1zM571 543h1v1h-1zM572 544h1v1h-1zM573 545h1v1h-1zM574 546h1v1h-1zM575 547h1v1h-1zM576 548h1v1h-1zM577 549h1v1h-1zM578 549h1v1h-1zM579 549h1v1h-1zM580 548h1v1h-1zM581 548h1v1h-1zM582 548h1v1h-1zM583 548h1v1h-1zM584 548h1v1h-1zM585 548h1v1h-1zM586 548h1v1h-1zM587 548h1v1h-1zM588 549h1v1h-1zM589 549h1v1h-1zM590 549h1v1h-1zM591 549h1v1h-1zM592 550h1v1h-1zM593 550h1v1h-1zM594 550h1v1h-1zM595 551h1v1h-1zM596 551h1v1h-1zM597 551h1v2h-1zM598 549h1v2h-1zM599 547h1v2h-1zM600 545h1v2h-1zM601 544h1v1h-1zM602 544h1v1h-1zM603 544h1v1h-1zM604 545h1v1h-1zM605 545h1v1h-1zM606 545h1v1h-1zM607 544h1v1h-1zM608 544h1v1h-1zM609 543h1v1h-1zM610 543h1v1h-1zM611 543h1v1h-1zM612 542h1v1h-1zM613 542h1v1h-1zM614 542h1v1h-1zM615 542h1v1h-1zM616 541h1v1h-1zM617 541h1v1h-1zM618 541h1v1h-1zM619 542h1v1h-1zM620 542h1v1h-1zM621 543h1v1h-1zM622 543h1v1h-1zM623 544h1v1h-1zM624 544h1v1h-1zM625 545h1v1h-1zM626 544h1v1h-1zM627 542h1v2h-1zM628 541h1v1h-1zM629 540h1v1h-1zM630 540h1v1h-1zM631 539h1v1h-1zM632 539h1v1h-1zM633 538h1v1h-1zM634 538h1v1h-1zM635 538h1v1h-1zM636 538h1v1h-1zM637 538h1v1h-1zM638 536h1v2h-1zM639 535h1v1h-1zM640 533h1v2h-1zM641 532h1v1h-1zM642 533h1v1h-1zM643 534h1v2h-1zM644 536h1v1h-1zM645 536h1v2h-1zM646 533h1v3h-1zM647 530h1v3h-1zM648 527h1v3h-1zM649 525h1v2h-1zM650 525h1v1h-1zM651 525h1v1h-1zM652 524h1v1h-1zM653 524h1v1h-1zM654 524h1v1h-1zM655 525h1v1h-1zM656 525h1v1h-1zM657 526h1v1h-1zM658 526h1v1h-1zM659 526h1v1h-1zM660 527h1v1h-1zM661 527h1v1h-1zM662 527h1v1h-1zM663 527h1v1h-1zM664 528h1v1h-1zM665 527h1v2h-1zM666 525h1v2h-1zM667 523h1v2h-1zM668 521h1v2h-1zM669 519h1v2h-1zM670 516h1v3h-1zM671 514h1v2h-1zM672 511h1v3h-1zM673 509h1v2h-1zM674 510h1v2h-1zM675 512h1v1h-1zM676 513h1v2h-1zM677 515h1v1h-1zM678 515h1v1h-1zM679 515h1v1h-1zM680 516h1v1h-1zM681 516h1v1h-1zM682 517h1v1h-1zM683 518h1v2h-1zM684 520h1v1h-1zM685 521h1v1h-1zM686 520h1v1h-1zM687 518h1v2h-1zM688 517h1v1h-1zM689 516h1v1h-1zM690 515h1v1h-1zM691 514h1v1h-1zM692 513h1v1h-1zM693 512h1v1h-1zM694 512h1v1h-1zM695 512h1v1h-1zM696 513h1v1h-1zM697 513h1v1h-1zM698 512h1v1h-1zM699 510h1v2h-1zM700 509h1v1h-1zM701 508h1v1h-1zM702 508h1v1h-1zM703 508h1v1h-1zM704 509h1v1h-1zM705 509h1v1h-1zM706 508h1v1h-1zM707 508h1v1h-1zM708 507h1v1h-1zM709 506h1v1h-1zM710 507h1v1h-1zM711 508h1v1h-1zM712 509h1v1h-1zM713 510h1v1h-1zM714 510h1v1h-1zM715 511h1v1h-1zM716 511h1v1h-1zM717 512h1v1h-1zM718 512h1v1h-1zM719 512h1v1h-1zM720 512h1v1h-1zM721 511h1v2h-1zM722 509h1v2h-1zM723 507h1v2h-1zM724 505h1v2h-1zM725 503h1v2h-1zM726 505h1v2h-1zM727 507h1v2h-1zM728 509h1v2h-1zM729 511h1v2h-1zM730 512h1v1h-1zM731 512h1v1h-1zM732 511h1v1h-1zM733 511h1v1h-1zM734 510h1v1h-1zM735 510h1v1h-1zM736 509h1v1h-1zM737 508h1v1h-1zM738 508h1v1h-1zM739 507h1v1h-1zM740 507h1v1h-1zM741 506h1v1h-1zM742 506h1v1h-1zM743 506h1v1h-1zM744 506h1v1h-1zM745 506h1v1h-1zM746 506h1v1h-1zM747 505h1v1h-1zM748 505h1v1h-1zM749 504h1v1h-1zM750 505h1v1h-1zM751 506h1v1h-1zM752 507h1v1h-1zM753 508h1v2h-1zM754 510h1v2h-1zM755 512h1v2h-1zM756 514h1v2h-1zM757 516h1v3h-1zM758 519h1v3h-1zM759 522h1v4h-1zM760 526h1v3h-1zM761 529h1v2h-1zM762 530h1v1h-1zM763 530h1v1h-1zM764 529h1v1h-1zM765 529h1v1h-1zM766 528h1v1h-1zM767 526h1v2h-1zM768 525h1v1h-1zM769 524h1v1h-1zM770 523h1v1h-1zM771 523h1v1h-1zM772 522h1v1h-1zM773 521h1v1h-1zM774 521h1v1h-1zM775 522h1v1h-1zM776 522h1v1h-1zM777 522h1v2h-1zM778 520h1v2h-1zM779 518h1v2h-1zM780 516h1v2h-1zM781 515h1v1h-1zM782 514h1v1h-1zM783 513h1v1h-1zM784 512h1v1h-1zM785 511h1v1h-1zM786 512h1v1h-1zM787 513h1v1h-1zM788 514h1v1h-1zM789 515h1v1h-1zM790 516h1v2h-1zM791 518h1v1h-1zM792 519h1v2h-1zM793 521h1v1h-1zM794 519h1v2h-1zM795 517h1v2h-1zM796 515h1v2h-1zM797 514h1v1h-1zM798 514h1v1h-1zM799 514h1v1h-1zM800 513h1v1h-1zM801 513h1v1h-1zM802 513h1v1h-1zM803 512h1v1h-1zM804 512h1v1h-1zM805 511h1v1h-1zM806 511h1v1h-1zM807 511h1v1h-1zM808 512h1v1h-1zM809 512h1v2h-1zM810 514h1v2h-1zM811 516h1v2h-1zM812 518h1v2h-1zM813 520h1v1h-1zM814 521h1v1h-1zM815 521h1v1h-1zM816 522h1v1h-1zM817 523h1v1h-1zM818 523h1v1h-1zM819 524h1v1h-1zM820 524h1v1h-1zM821 525h1v1h-1zM822 525h1v1h-1zM823 525h1v1h-1zM824 524h1v1h-1zM825 524h1v1h-1zM826 525h1v1h-1zM827 525h1v1h-1zM828 526h1v1h-1zM829 527h1v1h-1zM830 526h1v1h-1zM831 526h1v1h-1zM832 525h1v1h-1zM833 524h1v1h-1zM834 525h1v1h-1zM835 526h1v1h-1zM836 527h1v1h-1zM837 528h1v1h-1zM838 529h1v1h-1zM839 529h1v1h-1zM840 530h1v1h-1zM841 531h1v2h-1zM842 533h1v2h-1zM843 535h1v2h-1zM844 537h1v2h-1zM845 539h1v2h-1zM846 539h1v1h-1zM847 539h1v1h-1zM848 538h1v1h-1zM849 536h1v2h-1zM850 534h1v2h-1zM851 532h1v2h-1zM852 530h1v2h-1zM853 528h1v2h-1zM854 529h1v1h-1zM855 530h1v1h-1zM856 531h1v1h-1zM857 532h1v1h-1zM858 531h1v1h-1zM859 529h1v2h-1zM860 528h1v1h-1zM861 527h1v1h-1zM862 528h1v1h-1zM863 528h1v1h-1zM864 529h1v1h-1zM865 530h1v1h-1zM866 531h1v2h-1zM867 533h1v2h-1zM868 535h1v2h-1zM869 537h1v1h-1zM870 537h1v1h-1zM871 536h1v1h-1zM872 536h1v1h-1zM873 535h1v1h-1zM874 535h1v1h-1zM875 535h1v1h-1zM876 534h1v1h-1zM877 534h1v1h-1zM878 535h1v2h-1zM879 537h1v1h-1zM880 538h1v2h-1zM881 540h1v1h-1zM882 541h1v1h-1zM883 542h1v1h-1zM884 543h1v1h-1zM885 544h1v1h-1zM886 544h1v1h-1zM887 544h1v1h-1zM888 543h1v1h-1zM889 543h1v1h-1zM890 542h1v1h-1zM891 540h1v2h-1zM892 539h1v1h-1zM893 538h1v1h-1zM894 538h1v1h-1zM895 538h1v1h-1zM896 539h1v1h-1zM897 539h1v1h-1zM898 539h1v1h-1zM899 540h1v1h-1zM900 540h1v1h-1zM901 541h1v1h-1zM902 541h1v1h-1zM903 541h1v1h-1zM904 542h1v1h-1zM905 542h1v1h-1zM906 542h1v1h-1zM907 541h1v1h-1zM908 541h1v1h-1zM909 540h1v1h-1zM910 540h1v1h-1zM911 540h1v1h-1zM912 541h1v1h-1zM913 540h1v2h-1zM914 538h1v2h-1zM915 536h1v2h-1zM916 534h1v2h-1zM917 533h1v1h-1zM918 533h1v1h-1zM919 533h1v1h-1zM920 534h1v1h-1zM921 534h1v1h-1zM922 532h1v2h-1zM923 530h1v2h-1zM924 528h1v2h-1zM925 527h1v1h-1zM926 527h1v1h-1zM927 527h1v1h-1zM928 528h1v1h-1zM929 528h1v1h-1zM930 527h1v1h-1zM931 526h1v1h-1zM932 525h1v1h-1zM933 524h1v1h-1zM934 522h1v2h-1zM935 520h1v2h-1zM936 518h1v2h-1zM937 517h1v1h-1zM938 516h1v1h-1zM939 516h1v1h-1zM940 515h1v1h-1zM941 514h1v1h-1zM942 515h1v1h-1zM943 515h1v1h-1zM944 516h1v1h-1zM945 517h1v1h-1zM946 518h1v1h-1zM947 519h1v2h-1zM948 521h1v1h-1zM949 522h1v1h-1zM950 522h1v1h-1zM951 523h1v1h-1zM952 523h1v1h-1zM953 524h1v1h-1zM954 524h1v1h-1zM955 524h1v1h-1zM956 525h1v1h-1zM957 525h1v1h-1z" fill="#1e90ff"/><rect x="5" y="69" width="1199" height="2" fill="#ff0000"/><rect x="10" y="123" width="1187" height="2" fill="#ff0000"/><path d="M4 121h6v6h-6z M6 123v2h2v-2z" fill="#ff0000" fill-rule="evenodd"/><path d="M1197 121h6v6h-6z M1199 123v2h2v-2z" fill="#ff0000" fill-rule="evenodd"/><rect x="10" y="170" width="1187" height="2" fill="#00ff00"/><path d="M4 168h6v6h-6z M6 170v2h2v-2z" fill="#00ff00" fill-rule="evenodd"/><path d="M1197 168h6v6h-6z M1199 170v2h2v-2z" fill="#00ff00" fill-rule="evenodd"/><rect x="10" y="228" width="1187" height="2" fill="#0000ff"/><path d="M4 226h6v6h-6z M6 228v2h2v-2z" fill="#0000ff" fill-rule="evenodd"/><path d="M1197 226h6v6h-6z M1199 228v2h2v-2z" fill="#0000ff" fill-rule="evenodd"/><rect x="5" y="290" width="1199" height="2" fill="#0000ff"/><line x1="6" y1="507.5" x2="1204" y2="507.5" stroke="#c0c0c0" stroke-width="1" stroke-dasharray="3,3"/><line x1="6" y1="548.5" x2="1204" y2="548.5" stroke="#c0c0c0" stroke-width="1" stroke-dasharray="3,3"/><path d="M957 22h9v1h-9zM958 23h7v1h-7zM959 24h5v1h-5zM960 25h3v1h-3zM961 26h1v1h-1z" fill="#c0c0c0"/><path d="M8 28h7v1h-7zM9 29h5v1h-5zM10 30h3v1h-3zM11 31h1v1h-1z" fill="#000"/><path d="M1222 608v6l-3.5-3z M1238 608v6l3.5-3z" fill="#a0a0a0" shape-rendering="auto"/></svg>
<div class="t p" style="left:1209px;top:23.00px;">1<i>.</i>30010</div><div class="t p" style="left:1209px;top:56.00px;">1<i>.</i>29185</div><div class="t p" style="left:1209px;top:89.00px;">1<i>.</i>28335</div><div class="t p" style="left:1209px;top:122.00px;">1<i>.</i>27485</div><div class="t p" style="left:1209px;top:155.00px;">1<i>.</i>26635</div><div class="t p" style="left:1209px;top:188.00px;">1<i>.</i>25785</div><div class="t p" style="left:1209px;top:221.00px;">1<i>.</i>24935</div><div class="t p" style="left:1209px;top:254.00px;">1<i>.</i>24110</div><div class="t p" style="left:1209px;top:287.00px;">1<i>.</i>23260</div><div class="t p" style="left:1209px;top:320.00px;">1<i>.</i>22410</div><div class="t p" style="left:1209px;top:353.00px;">1<i>.</i>21560</div><div class="t p" style="left:1209px;top:386.00px;">1<i>.</i>20710</div><div class="t p" style="left:1209px;top:419.00px;">1<i>.</i>19885</div><div class="t p" style="left:1207px;top:431.00px;">0<i>.</i>011009</div><div class="t p" style="left:1207px;top:447.00px;">0<i>.</i>00</div><div class="t p" style="left:1207px;top:463.00px;">-0<i>.</i>011904</div><div class="t p" style="left:1207.5px;top:479.00px;">100</div><div class="t p" style="left:1207.5px;top:504.00px;">70</div><div class="t p" style="left:1207.5px;top:545.00px;">30</div><div class="t p" style="left:1207.5px;top:570.00px;">0</div><div style="position:absolute;left:1205px;top:64px;width:39px;height:11px;background:#ff0000"></div><div class="t p w" style="left:1209px;top:66.00px;">1<i>.</i>28906</div><div style="position:absolute;left:1205px;top:118px;width:39px;height:11px;background:#ff0000"></div><div class="t p w" style="left:1209px;top:120.00px;">1<i>.</i>27517</div><div style="position:absolute;left:1205px;top:146px;width:39px;height:11px;background:#000000"></div><div class="t p w" style="left:1209px;top:148.00px;">1<i>.</i>26807</div><div style="position:absolute;left:1205px;top:165px;width:39px;height:11px;background:#00ff00"></div><div class="t p w" style="left:1209px;top:167.00px;">1<i>.</i>26308</div><div style="position:absolute;left:1205px;top:223px;width:39px;height:11px;background:#0000ff"></div><div class="t p w" style="left:1209px;top:225.00px;">1<i>.</i>24811</div><div style="position:absolute;left:1205px;top:285px;width:39px;height:11px;background:#0000ff"></div><div class="t p w" style="left:1209px;top:287.00px;">1<i>.</i>23223</div><div class="t ttl" style="left:20.2px;top:26.00px;letter-spacing:0px">USDCAD-,Daily</div><div class="t p" style="left:95.5px;top:26.00px;">1<i>.</i>26892</div><div class="t p" style="left:131.5px;top:26.00px;">1<i>.</i>26912</div><div class="t p" style="left:167.6px;top:26.00px;">1<i>.</i>26792</div><div class="t p" style="left:203.6px;top:26.00px;">1<i>.</i>26807</div><div class="t ttl ind" style="left:9.2px;top:433.00px;">MACD(12,26,9) 0.001259 -0.001034</div><div class="t ttl ind" style="left:9.2px;top:481.00px;">RSI(14) 52.1729</div><div class="t d" style="left:3.6px;top:585.00px;letter-spacing:-0.086px">30 Apr 2021</div><div class="t d" style="left:67.6px;top:585.00px;letter-spacing:-0.147px">19 May 2021</div><div class="t d" style="left:131.6px;top:585.00px;letter-spacing:-0.335px">7 Jun 2021</div><div class="t d" style="left:195.6px;top:585.00px;letter-spacing:-0.331px">25 Jun 2021</div><div class="t d" style="left:259.6px;top:585.00px;letter-spacing:-0.336px">14 Jul 2021</div><div class="t d" style="left:323.6px;top:585.00px;letter-spacing:-0.113px">2 Aug 2021</div><div class="t d" style="left:387.6px;top:585.00px;letter-spacing:-0.175px">20 Aug 2021</div><div class="t d" style="left:451.6px;top:585.00px;letter-spacing:-0.336px">8 Sep 2021</div><div class="t d" style="left:515.6px;top:585.00px;letter-spacing:-0.332px">27 Sep 2021</div><div class="t d" style="left:579.6px;top:585.00px;letter-spacing:-0.235px">15 Oct 2021</div><div class="t d" style="left:643.6px;top:585.00px;letter-spacing:-0.086px">3 Nov 2021</div><div class="t d" style="left:707.6px;top:585.00px;letter-spacing:-0.149px">22 Nov 2021</div><div class="t d" style="left:771.6px;top:585.00px;letter-spacing:-0.340px">10 Dec 2021</div><div class="t d" style="left:835.6px;top:585.00px;letter-spacing:-0.322px">29 Dec 2021</div><div class="t d" style="left:899.6px;top:585.00px;letter-spacing:-0.313px">17 Jan 2022</div><div class="t tb" style="left:-1.0px;top:1.00px;">M5</div><div class="t tb" style="left:24.0px;top:1.00px;">M15</div><div class="t tb" style="left:52.2px;top:1.00px;">M30</div><div class="t tb" style="left:83.3px;top:1.00px;">H1</div><div class="t tb" style="left:110.1px;top:1.00px;">H4</div><div class="t tb" style="left:139.0px;top:1.00px;">D1</div><div class="t tb" style="left:167.0px;top:1.00px;">W1</div><div class="t tb" style="left:193.0px;top:1.00px;">MN</div><div class="t tab" style="left:17.4px;top:606.74px;letter-spacing:0.02px">EURUSD-,Daily</div><div class="t tab" style="left:124.3px;top:606.74px;letter-spacing:0.1px">AUDUSD-,Daily</div><div class="t tab" style="left:234.2px;top:606.74px;letter-spacing:-0.04px">USDCHF-,Daily</div><div class="t tab act" style="left:340.6px;top:606.74px;letter-spacing:0.08px">USDCAD-,Daily</div><div class="t tab" style="left:449.4px;top:606.74px;letter-spacing:0.25px">USDCNH-,Daily</div>
</body></html>
